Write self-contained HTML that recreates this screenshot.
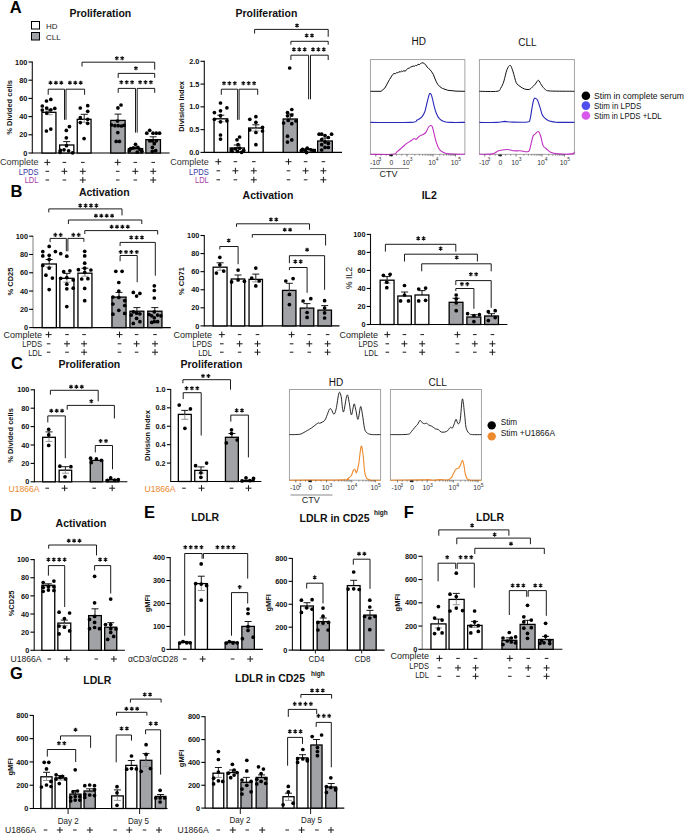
<!DOCTYPE html>
<html><head><meta charset="utf-8"><style>
html,body{margin:0;padding:0;background:#fff;}
svg{display:block;font-family:"Liberation Sans", sans-serif;}
</style></head><body>
<svg width="685" height="836" viewBox="0 0 685 836">
<text x="9.8" y="12.6" font-size="16.5" font-weight="bold" text-anchor="start" fill="#000">A</text>
<text x="100.3" y="17.2" font-size="10.5" font-weight="bold" text-anchor="middle" fill="#111">Proliferation</text>
<rect x="31.5" y="21.5" width="8" height="7.5" fill="#fff" stroke="#000" stroke-width="1"/>
<rect x="31.5" y="32.5" width="8" height="7.5" fill="#a1a2a6" stroke="#000" stroke-width="1"/>
<text x="46.0" y="28.5" font-size="8" font-weight="normal" text-anchor="start" fill="#222">HD</text>
<text x="46.0" y="39.5" font-size="8" font-weight="normal" text-anchor="start" fill="#222">CLL</text>
<line x1="32.30" y1="61.50" x2="32.30" y2="153.50" stroke="#111" stroke-width="1.1"/>
<line x1="32.30" y1="153.00" x2="169.60" y2="153.00" stroke="#000" stroke-width="1.1"/>
<line x1="28.50" y1="153.00" x2="32.30" y2="153.00" stroke="#000" stroke-width="1.1"/>
<text x="27.3" y="155.6" font-size="7.3" font-weight="bold" text-anchor="end" fill="#111">0</text>
<line x1="28.50" y1="134.80" x2="32.30" y2="134.80" stroke="#000" stroke-width="1.1"/>
<text x="27.3" y="137.4" font-size="7.3" font-weight="bold" text-anchor="end" fill="#111">20</text>
<line x1="28.50" y1="116.60" x2="32.30" y2="116.60" stroke="#000" stroke-width="1.1"/>
<text x="27.3" y="119.2" font-size="7.3" font-weight="bold" text-anchor="end" fill="#111">40</text>
<line x1="28.50" y1="98.40" x2="32.30" y2="98.40" stroke="#000" stroke-width="1.1"/>
<text x="27.3" y="101.0" font-size="7.3" font-weight="bold" text-anchor="end" fill="#111">60</text>
<line x1="28.50" y1="80.20" x2="32.30" y2="80.20" stroke="#000" stroke-width="1.1"/>
<text x="27.3" y="82.8" font-size="7.3" font-weight="bold" text-anchor="end" fill="#111">80</text>
<line x1="28.50" y1="62.00" x2="32.30" y2="62.00" stroke="#000" stroke-width="1.1"/>
<text x="27.3" y="64.6" font-size="7.3" font-weight="bold" text-anchor="end" fill="#111">100</text>
<text x="12.0" y="107.4" font-size="7.5" font-weight="bold" text-anchor="middle" fill="#111" transform="rotate(-90 12 107.4)">% Divided cells</text>
<rect x="41.95" y="112.30" width="14.00" height="40.70" fill="#fff" stroke="#000" stroke-width="1.3"/>
<rect x="59.65" y="145.00" width="14.20" height="8.00" fill="#fff" stroke="#000" stroke-width="1.3"/>
<rect x="77.25" y="119.30" width="13.80" height="33.70" fill="#fff" stroke="#000" stroke-width="1.3"/>
<rect x="110.75" y="120.40" width="14.40" height="32.60" fill="#a1a2a6" stroke="#000" stroke-width="1.3"/>
<rect x="128.35" y="148.60" width="14.30" height="4.40" fill="#a1a2a6" stroke="#000" stroke-width="1.3"/>
<rect x="145.85" y="139.70" width="14.60" height="13.30" fill="#a1a2a6" stroke="#000" stroke-width="1.3"/>
<line x1="49.00" y1="109.80" x2="49.00" y2="112.30" stroke="#000" stroke-width="0.9"/>
<line x1="45.50" y1="109.80" x2="52.50" y2="109.80" stroke="#000" stroke-width="0.9"/>
<line x1="49.00" y1="112.30" x2="49.00" y2="114.70" stroke="#8c8c8c" stroke-width="0.9"/>
<line x1="45.50" y1="114.70" x2="52.50" y2="114.70" stroke="#8c8c8c" stroke-width="0.9"/>
<line x1="66.70" y1="141.60" x2="66.70" y2="145.00" stroke="#000" stroke-width="0.9"/>
<line x1="63.20" y1="141.60" x2="70.20" y2="141.60" stroke="#000" stroke-width="0.9"/>
<line x1="84.20" y1="114.30" x2="84.20" y2="119.30" stroke="#000" stroke-width="0.9"/>
<line x1="80.70" y1="114.30" x2="87.70" y2="114.30" stroke="#000" stroke-width="0.9"/>
<line x1="84.20" y1="119.30" x2="84.20" y2="122.30" stroke="#8c8c8c" stroke-width="0.9"/>
<line x1="80.70" y1="122.30" x2="87.70" y2="122.30" stroke="#8c8c8c" stroke-width="0.9"/>
<line x1="118.00" y1="114.10" x2="118.00" y2="120.40" stroke="#000" stroke-width="0.9"/>
<line x1="114.50" y1="114.10" x2="121.50" y2="114.10" stroke="#000" stroke-width="0.9"/>
<line x1="135.50" y1="147.10" x2="135.50" y2="148.60" stroke="#000" stroke-width="0.9"/>
<line x1="132.00" y1="147.10" x2="139.00" y2="147.10" stroke="#000" stroke-width="0.9"/>
<line x1="153.10" y1="136.80" x2="153.10" y2="139.70" stroke="#000" stroke-width="0.9"/>
<line x1="149.60" y1="136.80" x2="156.60" y2="136.80" stroke="#000" stroke-width="0.9"/>
<circle cx="46.5" cy="101.0" r="1.85" fill="#000"/>
<circle cx="50.8" cy="99.4" r="1.85" fill="#000"/>
<circle cx="42.3" cy="106.0" r="1.85" fill="#000"/>
<circle cx="46.7" cy="108.0" r="1.85" fill="#000"/>
<circle cx="50.8" cy="109.8" r="1.85" fill="#000"/>
<circle cx="54.8" cy="108.4" r="1.85" fill="#000"/>
<circle cx="42.3" cy="110.1" r="1.85" fill="#000"/>
<circle cx="46.7" cy="113.1" r="1.85" fill="#000"/>
<circle cx="46.4" cy="131.0" r="1.85" fill="#000"/>
<circle cx="50.8" cy="129.1" r="1.85" fill="#000"/>
<circle cx="69.4" cy="126.6" r="1.85" fill="#000"/>
<circle cx="66.3" cy="130.4" r="1.85" fill="#000"/>
<circle cx="66.3" cy="137.8" r="1.85" fill="#000"/>
<circle cx="60.4" cy="150.3" r="1.85" fill="#000"/>
<circle cx="64.0" cy="149.8" r="1.85" fill="#000"/>
<circle cx="68.6" cy="150.8" r="1.85" fill="#000"/>
<circle cx="72.6" cy="152.8" r="1.85" fill="#000"/>
<circle cx="60.0" cy="152.3" r="1.85" fill="#000"/>
<circle cx="66.5" cy="145.7" r="1.85" fill="#000"/>
<circle cx="80.3" cy="108.0" r="1.85" fill="#000"/>
<circle cx="87.7" cy="105.7" r="1.85" fill="#000"/>
<circle cx="87.7" cy="111.3" r="1.85" fill="#000"/>
<circle cx="80.3" cy="117.7" r="1.85" fill="#000"/>
<circle cx="87.7" cy="119.3" r="1.85" fill="#000"/>
<circle cx="80.3" cy="122.6" r="1.85" fill="#000"/>
<circle cx="87.7" cy="123.3" r="1.85" fill="#000"/>
<circle cx="84.1" cy="138.6" r="1.85" fill="#000"/>
<circle cx="117.9" cy="107.9" r="1.85" fill="#000"/>
<circle cx="121.0" cy="105.0" r="1.85" fill="#000"/>
<circle cx="117.5" cy="121.0" r="1.85" fill="#000"/>
<circle cx="111.6" cy="125.0" r="1.85" fill="#000"/>
<circle cx="114.9" cy="125.7" r="1.85" fill="#000"/>
<circle cx="118.2" cy="125.7" r="1.85" fill="#000"/>
<circle cx="121.4" cy="126.0" r="1.85" fill="#000"/>
<circle cx="124.1" cy="125.3" r="1.85" fill="#000"/>
<circle cx="117.8" cy="132.6" r="1.85" fill="#000"/>
<circle cx="116.2" cy="141.4" r="1.85" fill="#000"/>
<circle cx="119.5" cy="141.4" r="1.85" fill="#000"/>
<circle cx="135.5" cy="144.3" r="1.85" fill="#000"/>
<circle cx="130.7" cy="148.7" r="1.85" fill="#000"/>
<circle cx="133.3" cy="148.0" r="1.85" fill="#000"/>
<circle cx="137.9" cy="147.4" r="1.85" fill="#000"/>
<circle cx="139.9" cy="149.3" r="1.85" fill="#000"/>
<circle cx="141.8" cy="151.3" r="1.85" fill="#000"/>
<circle cx="137.2" cy="152.0" r="1.85" fill="#000"/>
<circle cx="129.3" cy="150.7" r="1.85" fill="#000"/>
<circle cx="149.7" cy="130.3" r="1.85" fill="#000"/>
<circle cx="146.8" cy="133.2" r="1.85" fill="#000"/>
<circle cx="153.0" cy="133.2" r="1.85" fill="#000"/>
<circle cx="156.3" cy="133.2" r="1.85" fill="#000"/>
<circle cx="159.6" cy="133.2" r="1.85" fill="#000"/>
<circle cx="152.4" cy="140.8" r="1.85" fill="#000"/>
<circle cx="156.3" cy="140.8" r="1.85" fill="#000"/>
<circle cx="149.7" cy="140.8" r="1.85" fill="#000"/>
<circle cx="154.3" cy="143.7" r="1.85" fill="#000"/>
<circle cx="152.4" cy="147.4" r="1.85" fill="#000"/>
<circle cx="155.7" cy="150.7" r="1.85" fill="#000"/>
<circle cx="152.4" cy="151.3" r="1.85" fill="#000"/>
<polyline points="48.20,94.80 48.20,89.20 64.50,89.20 64.50,119.80" fill="none" stroke="#000" stroke-width="0.9"/>
<polyline points="66.00,119.80 66.00,89.20 84.60,89.20 84.60,94.80" fill="none" stroke="#000" stroke-width="0.9"/>
<path d="M50.50,80.75L50.50,84.85M48.72,81.77L52.28,83.83M52.28,81.77L48.72,83.83M55.90,80.75L55.90,84.85M54.12,81.77L57.68,83.83M57.68,81.77L54.12,83.83M61.30,80.75L61.30,84.85M59.52,81.77L63.08,83.83M63.08,81.77L59.52,83.83" stroke="#111" stroke-width="1.15" stroke-linecap="butt" fill="none"/>
<path d="M69.90,80.75L69.90,84.85M68.12,81.77L71.68,83.83M71.68,81.77L68.12,83.83M75.30,80.75L75.30,84.85M73.52,81.77L77.08,83.83M77.08,81.77L73.52,83.83M80.70,80.75L80.70,84.85M78.92,81.77L82.48,83.83M82.48,81.77L78.92,83.83" stroke="#111" stroke-width="1.15" stroke-linecap="butt" fill="none"/>
<polyline points="82.00,66.50 82.00,62.20 154.70,62.20 154.70,69.70" fill="none" stroke="#000" stroke-width="0.9"/>
<path d="M116.80,56.25L116.80,60.35M115.02,57.27L118.58,59.32M118.58,57.27L115.02,59.32M122.20,56.25L122.20,60.35M120.42,57.27L123.98,59.32M123.98,57.27L120.42,59.32" stroke="#111" stroke-width="1.15" stroke-linecap="butt" fill="none"/>
<polyline points="118.20,77.90 118.20,73.40 154.70,73.40 154.70,77.90" fill="none" stroke="#000" stroke-width="0.9"/>
<path d="M135.90,66.15L135.90,70.25M134.12,67.17L137.68,69.23M137.68,67.17L134.12,69.23" stroke="#111" stroke-width="1.15" stroke-linecap="butt" fill="none"/>
<polyline points="118.20,92.80 118.20,88.40 135.50,88.40 135.50,132.60" fill="none" stroke="#000" stroke-width="0.9"/>
<polyline points="137.20,132.60 137.20,88.40 154.70,88.40 154.70,92.80" fill="none" stroke="#000" stroke-width="0.9"/>
<path d="M121.30,80.25L121.30,84.35M119.52,81.27L123.08,83.33M123.08,81.27L119.52,83.33M126.70,80.25L126.70,84.35M124.92,81.27L128.48,83.33M128.48,81.27L124.92,83.33M132.10,80.25L132.10,84.35M130.32,81.27L133.88,83.33M133.88,81.27L130.32,83.33" stroke="#111" stroke-width="1.15" stroke-linecap="butt" fill="none"/>
<path d="M140.10,80.25L140.10,84.35M138.32,81.27L141.88,83.33M141.88,81.27L138.32,83.33M145.50,80.25L145.50,84.35M143.72,81.27L147.28,83.33M147.28,81.27L143.72,83.33M150.90,80.25L150.90,84.35M149.12,81.27L152.68,83.33M152.68,81.27L149.12,83.33" stroke="#111" stroke-width="1.15" stroke-linecap="butt" fill="none"/>
<line x1="204.30" y1="60.80" x2="204.30" y2="152.90" stroke="#111" stroke-width="1.1"/>
<line x1="204.30" y1="152.40" x2="342.00" y2="152.40" stroke="#000" stroke-width="1.1"/>
<line x1="200.50" y1="152.40" x2="204.30" y2="152.40" stroke="#000" stroke-width="1.1"/>
<text x="199.3" y="155.0" font-size="7.3" font-weight="bold" text-anchor="end" fill="#111">0.0</text>
<line x1="200.50" y1="129.62" x2="204.30" y2="129.62" stroke="#000" stroke-width="1.1"/>
<text x="199.3" y="132.2" font-size="7.3" font-weight="bold" text-anchor="end" fill="#111">0.5</text>
<line x1="200.50" y1="106.85" x2="204.30" y2="106.85" stroke="#000" stroke-width="1.1"/>
<text x="199.3" y="109.4" font-size="7.3" font-weight="bold" text-anchor="end" fill="#111">1.0</text>
<line x1="200.50" y1="84.08" x2="204.30" y2="84.08" stroke="#000" stroke-width="1.1"/>
<text x="199.3" y="86.7" font-size="7.3" font-weight="bold" text-anchor="end" fill="#111">1.5</text>
<line x1="200.50" y1="61.30" x2="204.30" y2="61.30" stroke="#000" stroke-width="1.1"/>
<text x="199.3" y="63.9" font-size="7.3" font-weight="bold" text-anchor="end" fill="#111">2.0</text>
<text x="184.5" y="106.4" font-size="7.5" font-weight="bold" text-anchor="middle" fill="#111" transform="rotate(-90 184.5 106.4)">Division Index</text>
<text x="266.4" y="16.5" font-size="10.5" font-weight="bold" text-anchor="middle" fill="#111">Proliferation</text>
<rect x="214.05" y="118.80" width="13.60" height="33.60" fill="#fff" stroke="#000" stroke-width="1.3"/>
<rect x="230.15" y="148.00" width="14.20" height="4.40" fill="#fff" stroke="#000" stroke-width="1.3"/>
<rect x="248.65" y="128.00" width="14.50" height="24.40" fill="#fff" stroke="#000" stroke-width="1.3"/>
<rect x="283.15" y="119.00" width="14.20" height="33.40" fill="#a1a2a6" stroke="#000" stroke-width="1.3"/>
<rect x="300.65" y="149.50" width="14.70" height="2.90" fill="#a1a2a6" stroke="#000" stroke-width="1.3"/>
<rect x="317.65" y="141.00" width="14.70" height="11.40" fill="#a1a2a6" stroke="#000" stroke-width="1.3"/>
<line x1="220.80" y1="115.20" x2="220.80" y2="118.80" stroke="#000" stroke-width="0.9"/>
<line x1="217.30" y1="115.20" x2="224.30" y2="115.20" stroke="#000" stroke-width="0.9"/>
<line x1="220.80" y1="118.80" x2="220.80" y2="121.80" stroke="#8c8c8c" stroke-width="0.9"/>
<line x1="217.30" y1="121.80" x2="224.30" y2="121.80" stroke="#8c8c8c" stroke-width="0.9"/>
<line x1="237.20" y1="145.00" x2="237.20" y2="148.00" stroke="#000" stroke-width="0.9"/>
<line x1="233.70" y1="145.00" x2="240.70" y2="145.00" stroke="#000" stroke-width="0.9"/>
<line x1="255.90" y1="124.80" x2="255.90" y2="128.00" stroke="#000" stroke-width="0.9"/>
<line x1="252.40" y1="124.80" x2="259.40" y2="124.80" stroke="#000" stroke-width="0.9"/>
<line x1="255.90" y1="128.00" x2="255.90" y2="131.00" stroke="#8c8c8c" stroke-width="0.9"/>
<line x1="252.40" y1="131.00" x2="259.40" y2="131.00" stroke="#8c8c8c" stroke-width="0.9"/>
<line x1="290.20" y1="114.00" x2="290.20" y2="119.00" stroke="#000" stroke-width="0.9"/>
<line x1="286.70" y1="114.00" x2="293.70" y2="114.00" stroke="#000" stroke-width="0.9"/>
<line x1="308.00" y1="148.50" x2="308.00" y2="149.50" stroke="#000" stroke-width="0.9"/>
<line x1="304.50" y1="148.50" x2="311.50" y2="148.50" stroke="#000" stroke-width="0.9"/>
<line x1="325.00" y1="138.00" x2="325.00" y2="141.00" stroke="#000" stroke-width="0.9"/>
<line x1="321.50" y1="138.00" x2="328.50" y2="138.00" stroke="#000" stroke-width="0.9"/>
<circle cx="220.5" cy="103.0" r="1.85" fill="#000"/>
<circle cx="226.9" cy="107.8" r="1.85" fill="#000"/>
<circle cx="220.5" cy="110.8" r="1.85" fill="#000"/>
<circle cx="214.4" cy="112.6" r="1.85" fill="#000"/>
<circle cx="220.5" cy="115.7" r="1.85" fill="#000"/>
<circle cx="214.4" cy="119.3" r="1.85" fill="#000"/>
<circle cx="220.5" cy="121.8" r="1.85" fill="#000"/>
<circle cx="226.9" cy="120.8" r="1.85" fill="#000"/>
<circle cx="220.5" cy="135.0" r="1.85" fill="#000"/>
<circle cx="220.5" cy="139.1" r="1.85" fill="#000"/>
<circle cx="239.6" cy="137.0" r="1.85" fill="#000"/>
<circle cx="237.0" cy="139.8" r="1.85" fill="#000"/>
<circle cx="238.1" cy="144.5" r="1.85" fill="#000"/>
<circle cx="232.0" cy="149.3" r="1.85" fill="#000"/>
<circle cx="235.5" cy="148.8" r="1.85" fill="#000"/>
<circle cx="239.6" cy="148.2" r="1.85" fill="#000"/>
<circle cx="243.7" cy="150.3" r="1.85" fill="#000"/>
<circle cx="232.0" cy="151.3" r="1.85" fill="#000"/>
<circle cx="237.6" cy="151.3" r="1.85" fill="#000"/>
<circle cx="241.6" cy="152.3" r="1.85" fill="#000"/>
<circle cx="249.8" cy="119.3" r="1.85" fill="#000"/>
<circle cx="255.9" cy="116.7" r="1.85" fill="#000"/>
<circle cx="255.9" cy="122.3" r="1.85" fill="#000"/>
<circle cx="262.5" cy="127.4" r="1.85" fill="#000"/>
<circle cx="249.8" cy="130.0" r="1.85" fill="#000"/>
<circle cx="255.9" cy="132.5" r="1.85" fill="#000"/>
<circle cx="262.5" cy="131.0" r="1.85" fill="#000"/>
<circle cx="255.9" cy="144.7" r="1.85" fill="#000"/>
<circle cx="289.7" cy="68.0" r="1.85" fill="#000"/>
<circle cx="291.8" cy="109.5" r="1.85" fill="#000"/>
<circle cx="287.5" cy="112.5" r="1.85" fill="#000"/>
<circle cx="291.8" cy="115.1" r="1.85" fill="#000"/>
<circle cx="287.5" cy="115.8" r="1.85" fill="#000"/>
<circle cx="288.2" cy="120.4" r="1.85" fill="#000"/>
<circle cx="283.6" cy="123.0" r="1.85" fill="#000"/>
<circle cx="291.8" cy="123.7" r="1.85" fill="#000"/>
<circle cx="296.0" cy="121.0" r="1.85" fill="#000"/>
<circle cx="287.5" cy="136.2" r="1.85" fill="#000"/>
<circle cx="291.8" cy="139.9" r="1.85" fill="#000"/>
<circle cx="287.5" cy="142.1" r="1.85" fill="#000"/>
<circle cx="307.2" cy="148.0" r="1.85" fill="#000"/>
<circle cx="302.6" cy="149.3" r="1.85" fill="#000"/>
<circle cx="311.2" cy="150.0" r="1.85" fill="#000"/>
<circle cx="305.3" cy="151.3" r="1.85" fill="#000"/>
<circle cx="313.8" cy="150.7" r="1.85" fill="#000"/>
<circle cx="301.3" cy="150.7" r="1.85" fill="#000"/>
<circle cx="306.6" cy="152.6" r="1.85" fill="#000"/>
<circle cx="319.1" cy="134.2" r="1.85" fill="#000"/>
<circle cx="321.7" cy="134.2" r="1.85" fill="#000"/>
<circle cx="325.0" cy="135.5" r="1.85" fill="#000"/>
<circle cx="328.3" cy="137.5" r="1.85" fill="#000"/>
<circle cx="331.6" cy="134.2" r="1.85" fill="#000"/>
<circle cx="321.7" cy="139.5" r="1.85" fill="#000"/>
<circle cx="325.0" cy="142.1" r="1.85" fill="#000"/>
<circle cx="328.3" cy="143.4" r="1.85" fill="#000"/>
<circle cx="321.7" cy="144.7" r="1.85" fill="#000"/>
<circle cx="328.3" cy="147.4" r="1.85" fill="#000"/>
<circle cx="325.0" cy="147.4" r="1.85" fill="#000"/>
<circle cx="321.7" cy="150.0" r="1.85" fill="#000"/>
<polyline points="221.30,94.80 221.30,89.20 237.60,89.20 237.60,119.80" fill="none" stroke="#000" stroke-width="0.9"/>
<polyline points="239.10,119.80 239.10,89.20 257.70,89.20 257.70,94.80" fill="none" stroke="#000" stroke-width="0.9"/>
<path d="M224.00,81.25L224.00,85.35M222.22,82.27L225.78,84.33M225.78,82.27L222.22,84.33M229.40,81.25L229.40,85.35M227.62,82.27L231.18,84.33M231.18,82.27L227.62,84.33M234.80,81.25L234.80,85.35M233.02,82.27L236.58,84.33M236.58,82.27L233.02,84.33" stroke="#111" stroke-width="1.15" stroke-linecap="butt" fill="none"/>
<path d="M243.30,81.25L243.30,85.35M241.52,82.27L245.08,84.33M245.08,82.27L241.52,84.33M248.70,81.25L248.70,85.35M246.92,82.27L250.48,84.33M250.48,82.27L246.92,84.33M254.10,81.25L254.10,85.35M252.32,82.27L255.88,84.33M255.88,82.27L252.32,84.33" stroke="#111" stroke-width="1.15" stroke-linecap="butt" fill="none"/>
<polyline points="254.60,33.60 254.60,29.40 328.20,29.40 328.20,36.80" fill="none" stroke="#000" stroke-width="0.9"/>
<path d="M297.00,23.45L297.00,27.55M295.22,24.48L298.78,26.52M298.78,24.48L295.22,26.52" stroke="#111" stroke-width="1.15" stroke-linecap="butt" fill="none"/>
<polyline points="290.90,44.70 290.90,41.30 328.20,41.30 328.20,44.70" fill="none" stroke="#000" stroke-width="0.9"/>
<path d="M306.60,33.45L306.60,37.55M304.82,34.48L308.38,36.52M308.38,34.48L304.82,36.52M312.00,33.45L312.00,37.55M310.22,34.48L313.78,36.52M313.78,34.48L310.22,36.52" stroke="#111" stroke-width="1.15" stroke-linecap="butt" fill="none"/>
<polyline points="290.90,60.00 290.90,55.20 308.60,55.20 308.60,99.30" fill="none" stroke="#000" stroke-width="0.9"/>
<polyline points="310.50,99.30 310.50,55.20 328.20,55.20 328.20,60.00" fill="none" stroke="#000" stroke-width="0.9"/>
<path d="M293.90,47.35L293.90,51.45M292.12,48.38L295.68,50.42M295.68,48.38L292.12,50.42M299.30,47.35L299.30,51.45M297.52,48.38L301.08,50.42M301.08,48.38L297.52,50.42M304.70,47.35L304.70,51.45M302.92,48.38L306.48,50.42M306.48,48.38L302.92,50.42" stroke="#111" stroke-width="1.15" stroke-linecap="butt" fill="none"/>
<path d="M313.00,47.35L313.00,51.45M311.22,48.38L314.78,50.42M314.78,48.38L311.22,50.42M318.40,47.35L318.40,51.45M316.62,48.38L320.18,50.42M320.18,48.38L316.62,50.42M323.80,47.35L323.80,51.45M322.02,48.38L325.58,50.42M325.58,48.38L322.02,50.42" stroke="#111" stroke-width="1.15" stroke-linecap="butt" fill="none"/>
<text x="38.5" y="165.3" font-size="9" font-weight="normal" text-anchor="end" fill="#333">Complete</text>
<text x="38.5" y="174.5" font-size="9" font-weight="normal" text-anchor="end" fill="#3434a8" textLength="19.7" lengthAdjust="spacingAndGlyphs">LPDS</text>
<text x="38.5" y="183.4" font-size="9" font-weight="normal" text-anchor="end" fill="#a83ca8" textLength="13.8" lengthAdjust="spacingAndGlyphs">LDL</text>
<path d="M44.30,162.40H50.30M47.30,159.40V165.40M62.60,162.40H66.20M81.00,162.40H84.60M114.70,162.40H120.70M117.70,159.40V165.40M133.50,162.40H137.10M151.40,162.40H155.00" stroke="#1a1a1a" stroke-width="1.0" fill="none"/>
<path d="M45.50,171.30H49.10M61.40,171.30H67.40M64.40,168.30V174.30M79.80,171.30H85.80M82.80,168.30V174.30M115.90,171.30H119.50M132.30,171.30H138.30M135.30,168.30V174.30M150.20,171.30H156.20M153.20,168.30V174.30" stroke="#1a1a1a" stroke-width="1.0" fill="none"/>
<path d="M45.50,180.00H49.10M62.60,180.00H66.20M79.80,180.00H85.80M82.80,177.00V183.00M115.90,180.00H119.50M133.50,180.00H137.10M150.20,180.00H156.20M153.20,177.00V183.00" stroke="#1a1a1a" stroke-width="1.0" fill="none"/>
<text x="208.8" y="165.3" font-size="9" font-weight="normal" text-anchor="end" fill="#333">Complete</text>
<text x="208.8" y="174.5" font-size="9" font-weight="normal" text-anchor="end" fill="#3434a8" textLength="19.7" lengthAdjust="spacingAndGlyphs">LPDS</text>
<text x="208.8" y="183.4" font-size="9" font-weight="normal" text-anchor="end" fill="#a83ca8" textLength="13.8" lengthAdjust="spacingAndGlyphs">LDL</text>
<path d="M215.30,161.70H221.30M218.30,158.70V164.70M233.60,161.70H237.20M252.00,161.70H255.60M285.50,161.70H291.50M288.50,158.70V164.70M303.80,161.70H307.40M321.60,161.70H325.20" stroke="#1a1a1a" stroke-width="1.0" fill="none"/>
<path d="M216.50,170.80H220.10M232.40,170.80H238.40M235.40,167.80V173.80M250.80,170.80H256.80M253.80,167.80V173.80M286.70,170.80H290.30M302.60,170.80H308.60M305.60,167.80V173.80M320.40,170.80H326.40M323.40,167.80V173.80" stroke="#1a1a1a" stroke-width="1.0" fill="none"/>
<path d="M216.50,179.80H220.10M233.60,179.80H237.20M250.80,179.80H256.80M253.80,176.80V182.80M286.70,179.80H290.30M303.80,179.80H307.40M320.40,179.80H326.40M323.40,176.80V182.80" stroke="#1a1a1a" stroke-width="1.0" fill="none"/>
<text x="418.8" y="44.5" font-size="10" font-weight="normal" text-anchor="middle" fill="#111">HD</text>
<text x="527.4" y="45.5" font-size="10" font-weight="normal" text-anchor="middle" fill="#111">CLL</text>
<rect x="370.4" y="59.6" width="94.5" height="94.70000000000002" fill="none" stroke="#9a9a9a" stroke-width="0.9"/>
<rect x="479.4" y="59.6" width="95.0" height="94.70000000000002" fill="none" stroke="#9a9a9a" stroke-width="0.9"/>
<path d="M370.4,91.3 L381.1,91.3 L384.9,88.0 L389.5,79.5 L392.6,74.6 L394.1,73.4 L395.3,73.9 L396.6,72.5 L397.8,72.9 L399.0,71.6 L400.3,72.2 L401.5,70.9 L402.7,71.6 L403.9,70.5 L405.2,71.4 L406.4,69.7 L407.9,68.5 L409.5,67.9 L410.7,67.0 L411.9,66.6 L413.1,66.0 L414.4,66.3 L415.6,65.4 L416.8,65.7 L418.0,64.2 L419.3,64.7 L420.5,63.6 L421.7,63.0 L422.9,62.7 L424.2,63.6 L425.5,64.5 L427.1,67.0 L428.6,68.5 L430.1,69.7 L431.7,71.9 L433.2,74.2 L434.7,78.0 L436.3,81.8 L437.8,84.4 L440.1,86.9 L442.4,88.4 L447.8,90.3 L457.0,91.2 L464.9,91.3" fill="none" stroke="#111" stroke-width="1.0" stroke-linejoin="round"/>
<path d="M370.4,122.4 C377.2,122.4 403.2,122.8 411.0,122.4 C418.8,122.0 415.3,121.0 417.1,120.1 C418.9,119.2 420.4,118.5 421.7,117.1 C423.0,115.7 423.9,114.1 424.8,111.7 C425.7,109.3 426.3,105.4 427.1,102.5 C427.9,99.6 428.7,95.4 429.4,94.1 C430.1,92.8 430.7,93.7 431.2,94.5 C431.7,95.3 431.9,96.9 432.4,98.7 C432.9,100.5 433.4,103.2 434.0,105.6 C434.6,108.0 435.4,111.0 436.3,113.2 C437.2,115.4 437.9,117.2 439.3,118.6 C440.7,120.0 442.8,121.1 444.7,121.7 C446.6,122.3 447.4,122.3 450.8,122.4 C454.2,122.5 462.5,122.4 464.9,122.4" fill="none" stroke="#2a2ab8" stroke-width="1.1" stroke-linejoin="round"/>
<path d="M370.4,154.3 C374.1,154.3 388.1,154.8 392.6,154.3 C397.1,153.9 395.7,152.7 397.2,151.6 C398.7,150.5 400.3,149.0 401.8,147.7 C403.3,146.4 404.9,144.8 406.4,143.6 C407.9,142.4 409.7,141.7 411.0,140.8 C412.3,140.0 413.1,138.8 414.0,138.5 C414.9,138.2 415.4,139.7 416.3,139.3 C417.2,138.9 418.1,137.1 419.4,136.2 C420.7,135.3 422.9,134.8 424.0,134.0 C425.1,133.2 425.5,132.8 426.3,131.6 C427.1,130.4 427.8,128.0 428.6,127.0 C429.4,126.0 430.3,125.5 430.9,125.5 C431.5,125.5 431.9,125.7 432.4,127.0 C432.9,128.3 433.4,130.6 434.0,133.2 C434.6,135.8 435.4,139.7 436.3,142.4 C437.2,145.1 438.2,147.7 439.3,149.3 C440.4,151.0 441.5,151.5 443.2,152.3 C444.9,153.1 445.7,153.6 449.3,153.9 C452.9,154.2 462.3,154.2 464.9,154.3" fill="none" stroke="#c030c0" stroke-width="1.1" stroke-linejoin="round"/>
<path d="M479.4,91.3 C482.3,91.3 493.4,91.8 497.0,91.3 C500.6,90.8 499.7,89.7 500.8,88.0 C501.9,86.3 502.9,84.2 503.9,81.1 C504.9,78.0 505.9,72.2 507.0,69.6 C508.1,67.0 509.3,65.0 510.3,65.4 C511.3,65.8 512.1,69.0 513.1,71.9 C514.1,74.8 515.1,80.2 516.2,82.6 C517.4,85.0 518.6,85.3 520.0,86.4 C521.4,87.5 523.1,88.5 524.6,89.0 C526.1,89.5 527.9,89.8 529.2,89.5 C530.5,89.2 531.2,88.1 532.2,87.2 C533.2,86.3 534.3,85.2 535.3,84.1 C536.3,82.9 537.4,80.2 538.4,80.3 C539.4,80.4 540.2,83.4 541.4,84.9 C542.5,86.4 543.8,88.5 545.3,89.5 C546.8,90.5 545.8,90.7 550.6,91.0 C555.5,91.3 570.4,91.2 574.4,91.3" fill="none" stroke="#111" stroke-width="1.0" stroke-linejoin="round"/>
<path d="M479.4,122.4 C482.3,122.4 492.8,122.6 497.0,122.4 C501.2,122.2 502.1,121.5 504.7,121.4 C507.2,121.4 508.5,122.0 512.3,122.1 C516.1,122.2 524.6,122.5 527.6,122.0 C530.6,121.5 529.3,121.6 530.0,119.4 C530.7,117.2 531.3,111.9 531.9,108.6 C532.5,105.3 533.2,101.2 533.8,99.5 C534.4,97.8 534.7,98.1 535.3,98.2 C535.9,98.3 536.8,98.7 537.6,100.2 C538.4,101.7 539.1,104.7 539.9,107.1 C540.7,109.5 541.4,113.0 542.2,114.8 C543.0,116.6 543.4,116.8 544.5,117.8 C545.6,118.8 547.3,120.2 549.1,120.9 C550.9,121.6 551.0,121.8 555.2,122.1 C559.4,122.3 571.2,122.4 574.4,122.4" fill="none" stroke="#2a2ab8" stroke-width="1.1" stroke-linejoin="round"/>
<path d="M479.4,154.3 C481.6,154.2 489.2,154.5 492.4,153.9 C495.6,153.3 496.4,151.5 498.5,150.8 C500.6,150.1 502.9,149.9 504.7,149.7 C506.5,149.5 507.8,149.5 509.3,149.7 C510.8,149.9 512.1,150.6 513.9,150.8 C515.7,151.0 517.6,150.7 520.0,150.8 C522.4,150.9 526.6,152.5 528.4,151.6 C530.2,150.7 529.9,148.0 530.7,145.4 C531.5,142.8 532.2,138.1 533.0,136.2 C533.8,134.3 534.4,134.7 535.3,133.9 C536.2,133.1 537.5,131.2 538.4,131.6 C539.3,132.0 539.9,133.9 540.7,136.2 C541.5,138.5 542.1,143.3 543.0,145.4 C543.9,147.5 544.7,147.3 546.0,148.5 C547.3,149.7 548.6,151.4 550.6,152.3 C552.6,153.2 554.7,153.6 558.3,153.9 C561.9,154.2 569.4,154.2 572.1,153.9 C574.8,153.6 574.0,152.2 574.4,151.9" fill="none" stroke="#c030c0" stroke-width="1.1" stroke-linejoin="round"/>
<line x1="414.83" y1="154.30" x2="414.83" y2="155.80" stroke="#555" stroke-width="0.6"/>
<line x1="419.41" y1="154.30" x2="419.41" y2="155.80" stroke="#555" stroke-width="0.6"/>
<line x1="422.65" y1="154.30" x2="422.65" y2="155.80" stroke="#555" stroke-width="0.6"/>
<line x1="425.17" y1="154.30" x2="425.17" y2="155.80" stroke="#555" stroke-width="0.6"/>
<line x1="427.23" y1="154.30" x2="427.23" y2="155.80" stroke="#555" stroke-width="0.6"/>
<line x1="428.97" y1="154.30" x2="428.97" y2="155.80" stroke="#555" stroke-width="0.6"/>
<line x1="430.48" y1="154.30" x2="430.48" y2="155.80" stroke="#555" stroke-width="0.6"/>
<line x1="431.81" y1="154.30" x2="431.81" y2="155.80" stroke="#555" stroke-width="0.6"/>
<line x1="439.77" y1="154.30" x2="439.77" y2="155.80" stroke="#555" stroke-width="0.6"/>
<line x1="443.74" y1="154.30" x2="443.74" y2="155.80" stroke="#555" stroke-width="0.6"/>
<line x1="446.55" y1="154.30" x2="446.55" y2="155.80" stroke="#555" stroke-width="0.6"/>
<line x1="448.73" y1="154.30" x2="448.73" y2="155.80" stroke="#555" stroke-width="0.6"/>
<line x1="450.51" y1="154.30" x2="450.51" y2="155.80" stroke="#555" stroke-width="0.6"/>
<line x1="452.01" y1="154.30" x2="452.01" y2="155.80" stroke="#555" stroke-width="0.6"/>
<line x1="453.32" y1="154.30" x2="453.32" y2="155.80" stroke="#555" stroke-width="0.6"/>
<line x1="454.47" y1="154.30" x2="454.47" y2="155.80" stroke="#555" stroke-width="0.6"/>
<line x1="380.98" y1="154.30" x2="380.98" y2="155.80" stroke="#555" stroke-width="0.6"/>
<line x1="386.16" y1="154.30" x2="386.16" y2="155.80" stroke="#555" stroke-width="0.6"/>
<line x1="396.62" y1="154.30" x2="396.62" y2="155.80" stroke="#555" stroke-width="0.6"/>
<line x1="401.73" y1="154.30" x2="401.73" y2="155.80" stroke="#555" stroke-width="0.6"/>
<text x="374.8" y="164.5" font-size="6.8" font-weight="normal" text-anchor="middle" fill="#333">-10</text>
<text x="378.6" y="161.3" font-size="5" font-weight="normal" text-anchor="start" fill="#333">3</text>
<line x1="375.80" y1="154.30" x2="375.80" y2="156.50" stroke="#444" stroke-width="0.7"/>
<text x="391.5" y="164.5" font-size="6.8" font-weight="normal" text-anchor="middle" fill="#333">0</text>
<line x1="391.50" y1="154.30" x2="391.50" y2="156.50" stroke="#444" stroke-width="0.7"/>
<text x="406.0" y="164.5" font-size="6.8" font-weight="normal" text-anchor="middle" fill="#333">10</text>
<text x="409.8" y="161.3" font-size="5" font-weight="normal" text-anchor="start" fill="#333">3</text>
<line x1="407.00" y1="154.30" x2="407.00" y2="156.50" stroke="#444" stroke-width="0.7"/>
<text x="432.0" y="164.5" font-size="6.8" font-weight="normal" text-anchor="middle" fill="#333">10</text>
<text x="435.8" y="161.3" font-size="5" font-weight="normal" text-anchor="start" fill="#333">4</text>
<line x1="433.00" y1="154.30" x2="433.00" y2="156.50" stroke="#444" stroke-width="0.7"/>
<text x="454.5" y="164.5" font-size="6.8" font-weight="normal" text-anchor="middle" fill="#333">10</text>
<text x="458.3" y="161.3" font-size="5" font-weight="normal" text-anchor="start" fill="#333">5</text>
<line x1="455.50" y1="154.30" x2="455.50" y2="156.50" stroke="#444" stroke-width="0.7"/>
<rect x="389.3" y="154.6" width="3.6" height="1.6" fill="#222"/>
<line x1="523.83" y1="154.30" x2="523.83" y2="155.80" stroke="#555" stroke-width="0.6"/>
<line x1="528.41" y1="154.30" x2="528.41" y2="155.80" stroke="#555" stroke-width="0.6"/>
<line x1="531.65" y1="154.30" x2="531.65" y2="155.80" stroke="#555" stroke-width="0.6"/>
<line x1="534.17" y1="154.30" x2="534.17" y2="155.80" stroke="#555" stroke-width="0.6"/>
<line x1="536.23" y1="154.30" x2="536.23" y2="155.80" stroke="#555" stroke-width="0.6"/>
<line x1="537.97" y1="154.30" x2="537.97" y2="155.80" stroke="#555" stroke-width="0.6"/>
<line x1="539.48" y1="154.30" x2="539.48" y2="155.80" stroke="#555" stroke-width="0.6"/>
<line x1="540.81" y1="154.30" x2="540.81" y2="155.80" stroke="#555" stroke-width="0.6"/>
<line x1="548.77" y1="154.30" x2="548.77" y2="155.80" stroke="#555" stroke-width="0.6"/>
<line x1="552.74" y1="154.30" x2="552.74" y2="155.80" stroke="#555" stroke-width="0.6"/>
<line x1="555.55" y1="154.30" x2="555.55" y2="155.80" stroke="#555" stroke-width="0.6"/>
<line x1="557.73" y1="154.30" x2="557.73" y2="155.80" stroke="#555" stroke-width="0.6"/>
<line x1="559.51" y1="154.30" x2="559.51" y2="155.80" stroke="#555" stroke-width="0.6"/>
<line x1="561.01" y1="154.30" x2="561.01" y2="155.80" stroke="#555" stroke-width="0.6"/>
<line x1="562.32" y1="154.30" x2="562.32" y2="155.80" stroke="#555" stroke-width="0.6"/>
<line x1="563.47" y1="154.30" x2="563.47" y2="155.80" stroke="#555" stroke-width="0.6"/>
<line x1="489.98" y1="154.30" x2="489.98" y2="155.80" stroke="#555" stroke-width="0.6"/>
<line x1="495.16" y1="154.30" x2="495.16" y2="155.80" stroke="#555" stroke-width="0.6"/>
<line x1="505.62" y1="154.30" x2="505.62" y2="155.80" stroke="#555" stroke-width="0.6"/>
<line x1="510.73" y1="154.30" x2="510.73" y2="155.80" stroke="#555" stroke-width="0.6"/>
<text x="483.8" y="164.5" font-size="6.8" font-weight="normal" text-anchor="middle" fill="#333">-10</text>
<text x="487.6" y="161.3" font-size="5" font-weight="normal" text-anchor="start" fill="#333">3</text>
<line x1="484.80" y1="154.30" x2="484.80" y2="156.50" stroke="#444" stroke-width="0.7"/>
<text x="500.5" y="164.5" font-size="6.8" font-weight="normal" text-anchor="middle" fill="#333">0</text>
<line x1="500.50" y1="154.30" x2="500.50" y2="156.50" stroke="#444" stroke-width="0.7"/>
<text x="515.0" y="164.5" font-size="6.8" font-weight="normal" text-anchor="middle" fill="#333">10</text>
<text x="518.8" y="161.3" font-size="5" font-weight="normal" text-anchor="start" fill="#333">3</text>
<line x1="516.00" y1="154.30" x2="516.00" y2="156.50" stroke="#444" stroke-width="0.7"/>
<text x="541.0" y="164.5" font-size="6.8" font-weight="normal" text-anchor="middle" fill="#333">10</text>
<text x="544.8" y="161.3" font-size="5" font-weight="normal" text-anchor="start" fill="#333">4</text>
<line x1="542.00" y1="154.30" x2="542.00" y2="156.50" stroke="#444" stroke-width="0.7"/>
<text x="563.5" y="164.5" font-size="6.8" font-weight="normal" text-anchor="middle" fill="#333">10</text>
<text x="567.3" y="161.3" font-size="5" font-weight="normal" text-anchor="start" fill="#333">5</text>
<line x1="564.50" y1="154.30" x2="564.50" y2="156.50" stroke="#444" stroke-width="0.7"/>
<rect x="498.3" y="154.6" width="3.6" height="1.6" fill="#222"/>
<line x1="370.00" y1="168.50" x2="409.00" y2="168.50" stroke="#8a8a8a" stroke-width="1.2"/>
<text x="388.5" y="176.5" font-size="9" font-weight="normal" text-anchor="middle" fill="#222">CTV</text>
<circle cx="585.9" cy="95.8" r="4.3" fill="#000"/>
<text x="594.0" y="98.8" font-size="8.8" font-weight="normal" text-anchor="start" fill="#111" textLength="90" lengthAdjust="spacingAndGlyphs">Stim in complete serum</text>
<circle cx="585.9" cy="105.6" r="4.3" fill="#5050f0"/>
<text x="594.0" y="108.6" font-size="8.8" font-weight="normal" text-anchor="start" fill="#111" textLength="47.3" lengthAdjust="spacingAndGlyphs">Stim in LPDS</text>
<circle cx="585.9" cy="115.5" r="4.3" fill="#d858ee"/>
<text x="594.0" y="118.5" font-size="8.8" font-weight="normal" text-anchor="start" fill="#111" textLength="67.7" lengthAdjust="spacingAndGlyphs">Stim in LPDS +LDL</text>
<text x="10.4" y="196.9" font-size="16.5" font-weight="bold" text-anchor="start" fill="#000">B</text>
<text x="104.3" y="196.3" font-size="10.5" font-weight="bold" text-anchor="middle" fill="#111">Activation</text>
<line x1="33.00" y1="235.70" x2="33.00" y2="328.10" stroke="#8a8a8a" stroke-width="1.1"/>
<line x1="33.00" y1="327.60" x2="170.80" y2="327.60" stroke="#000" stroke-width="1.1"/>
<line x1="29.20" y1="327.60" x2="33.00" y2="327.60" stroke="#000" stroke-width="1.1"/>
<text x="28.0" y="330.2" font-size="7.3" font-weight="bold" text-anchor="end" fill="#111">0</text>
<line x1="29.20" y1="309.32" x2="33.00" y2="309.32" stroke="#000" stroke-width="1.1"/>
<text x="28.0" y="311.9" font-size="7.3" font-weight="bold" text-anchor="end" fill="#111">20</text>
<line x1="29.20" y1="291.04" x2="33.00" y2="291.04" stroke="#000" stroke-width="1.1"/>
<text x="28.0" y="293.6" font-size="7.3" font-weight="bold" text-anchor="end" fill="#111">40</text>
<line x1="29.20" y1="272.76" x2="33.00" y2="272.76" stroke="#000" stroke-width="1.1"/>
<text x="28.0" y="275.4" font-size="7.3" font-weight="bold" text-anchor="end" fill="#111">60</text>
<line x1="29.20" y1="254.48" x2="33.00" y2="254.48" stroke="#000" stroke-width="1.1"/>
<text x="28.0" y="257.1" font-size="7.3" font-weight="bold" text-anchor="end" fill="#111">80</text>
<line x1="29.20" y1="236.20" x2="33.00" y2="236.20" stroke="#000" stroke-width="1.1"/>
<text x="28.0" y="238.8" font-size="7.3" font-weight="bold" text-anchor="end" fill="#111">100</text>
<text x="12.5" y="281.5" font-size="7.5" font-weight="bold" text-anchor="middle" fill="#111" transform="rotate(-90 12.5 281.5)">% CD25</text>
<rect x="42.15" y="264.00" width="14.20" height="63.60" fill="#fff" stroke="#000" stroke-width="1.3"/>
<rect x="59.85" y="278.30" width="14.10" height="49.30" fill="#fff" stroke="#000" stroke-width="1.3"/>
<rect x="77.95" y="273.20" width="14.00" height="54.40" fill="#fff" stroke="#000" stroke-width="1.3"/>
<rect x="111.95" y="297.10" width="14.10" height="30.50" fill="#a1a2a6" stroke="#000" stroke-width="1.3"/>
<rect x="129.95" y="311.20" width="13.90" height="16.40" fill="#a1a2a6" stroke="#000" stroke-width="1.3"/>
<rect x="147.75" y="311.20" width="14.20" height="16.40" fill="#a1a2a6" stroke="#000" stroke-width="1.3"/>
<line x1="49.20" y1="259.50" x2="49.20" y2="264.00" stroke="#000" stroke-width="0.9"/>
<line x1="45.70" y1="259.50" x2="52.70" y2="259.50" stroke="#000" stroke-width="0.9"/>
<line x1="49.20" y1="264.00" x2="49.20" y2="267.00" stroke="#8c8c8c" stroke-width="0.9"/>
<line x1="45.70" y1="267.00" x2="52.70" y2="267.00" stroke="#8c8c8c" stroke-width="0.9"/>
<line x1="66.90" y1="273.40" x2="66.90" y2="278.30" stroke="#000" stroke-width="0.9"/>
<line x1="63.40" y1="273.40" x2="70.40" y2="273.40" stroke="#000" stroke-width="0.9"/>
<line x1="66.90" y1="278.30" x2="66.90" y2="282.20" stroke="#8c8c8c" stroke-width="0.9"/>
<line x1="63.40" y1="282.20" x2="70.40" y2="282.20" stroke="#8c8c8c" stroke-width="0.9"/>
<line x1="84.90" y1="268.20" x2="84.90" y2="273.20" stroke="#000" stroke-width="0.9"/>
<line x1="81.40" y1="268.20" x2="88.40" y2="268.20" stroke="#000" stroke-width="0.9"/>
<line x1="84.90" y1="273.20" x2="84.90" y2="276.20" stroke="#8c8c8c" stroke-width="0.9"/>
<line x1="81.40" y1="276.20" x2="88.40" y2="276.20" stroke="#8c8c8c" stroke-width="0.9"/>
<line x1="119.00" y1="292.40" x2="119.00" y2="297.10" stroke="#000" stroke-width="0.9"/>
<line x1="115.50" y1="292.40" x2="122.50" y2="292.40" stroke="#000" stroke-width="0.9"/>
<line x1="136.90" y1="307.60" x2="136.90" y2="311.20" stroke="#000" stroke-width="0.9"/>
<line x1="133.40" y1="307.60" x2="140.40" y2="307.60" stroke="#000" stroke-width="0.9"/>
<line x1="154.80" y1="307.60" x2="154.80" y2="311.20" stroke="#000" stroke-width="0.9"/>
<line x1="151.30" y1="307.60" x2="158.30" y2="307.60" stroke="#000" stroke-width="0.9"/>
<circle cx="49.2" cy="246.4" r="1.85" fill="#000"/>
<circle cx="42.8" cy="251.6" r="1.85" fill="#000"/>
<circle cx="55.4" cy="251.6" r="1.85" fill="#000"/>
<circle cx="42.8" cy="255.9" r="1.85" fill="#000"/>
<circle cx="49.2" cy="255.3" r="1.85" fill="#000"/>
<circle cx="49.2" cy="259.4" r="1.85" fill="#000"/>
<circle cx="42.8" cy="265.5" r="1.85" fill="#000"/>
<circle cx="49.2" cy="268.1" r="1.85" fill="#000"/>
<circle cx="45.9" cy="275.2" r="1.85" fill="#000"/>
<circle cx="52.4" cy="278.1" r="1.85" fill="#000"/>
<circle cx="49.2" cy="289.6" r="1.85" fill="#000"/>
<circle cx="60.7" cy="253.7" r="1.85" fill="#000"/>
<circle cx="66.8" cy="256.2" r="1.85" fill="#000"/>
<circle cx="63.7" cy="271.7" r="1.85" fill="#000"/>
<circle cx="69.9" cy="270.8" r="1.85" fill="#000"/>
<circle cx="60.7" cy="278.3" r="1.85" fill="#000"/>
<circle cx="66.8" cy="277.6" r="1.85" fill="#000"/>
<circle cx="73.2" cy="280.0" r="1.85" fill="#000"/>
<circle cx="66.8" cy="284.2" r="1.85" fill="#000"/>
<circle cx="73.2" cy="288.2" r="1.85" fill="#000"/>
<circle cx="66.8" cy="288.8" r="1.85" fill="#000"/>
<circle cx="66.8" cy="306.6" r="1.85" fill="#000"/>
<circle cx="84.7" cy="251.3" r="1.85" fill="#000"/>
<circle cx="84.7" cy="255.9" r="1.85" fill="#000"/>
<circle cx="84.7" cy="263.2" r="1.85" fill="#000"/>
<circle cx="78.4" cy="269.7" r="1.85" fill="#000"/>
<circle cx="84.7" cy="268.2" r="1.85" fill="#000"/>
<circle cx="90.9" cy="270.0" r="1.85" fill="#000"/>
<circle cx="84.7" cy="272.4" r="1.85" fill="#000"/>
<circle cx="81.7" cy="279.0" r="1.85" fill="#000"/>
<circle cx="87.9" cy="278.7" r="1.85" fill="#000"/>
<circle cx="84.7" cy="288.4" r="1.85" fill="#000"/>
<circle cx="84.7" cy="300.7" r="1.85" fill="#000"/>
<circle cx="115.8" cy="271.3" r="1.85" fill="#000"/>
<circle cx="122.1" cy="271.3" r="1.85" fill="#000"/>
<circle cx="118.8" cy="282.5" r="1.85" fill="#000"/>
<circle cx="118.8" cy="291.1" r="1.85" fill="#000"/>
<circle cx="112.9" cy="297.1" r="1.85" fill="#000"/>
<circle cx="118.8" cy="297.4" r="1.85" fill="#000"/>
<circle cx="124.7" cy="300.7" r="1.85" fill="#000"/>
<circle cx="112.9" cy="304.0" r="1.85" fill="#000"/>
<circle cx="124.7" cy="305.5" r="1.85" fill="#000"/>
<circle cx="118.8" cy="310.3" r="1.85" fill="#000"/>
<circle cx="112.9" cy="314.2" r="1.85" fill="#000"/>
<circle cx="124.7" cy="313.4" r="1.85" fill="#000"/>
<circle cx="133.3" cy="292.4" r="1.85" fill="#000"/>
<circle cx="136.6" cy="296.1" r="1.85" fill="#000"/>
<circle cx="139.9" cy="293.4" r="1.85" fill="#000"/>
<circle cx="133.3" cy="311.8" r="1.85" fill="#000"/>
<circle cx="136.6" cy="313.2" r="1.85" fill="#000"/>
<circle cx="139.9" cy="313.8" r="1.85" fill="#000"/>
<circle cx="131.3" cy="315.1" r="1.85" fill="#000"/>
<circle cx="136.6" cy="318.4" r="1.85" fill="#000"/>
<circle cx="139.9" cy="321.7" r="1.85" fill="#000"/>
<circle cx="133.3" cy="323.4" r="1.85" fill="#000"/>
<circle cx="154.3" cy="285.8" r="1.85" fill="#000"/>
<circle cx="154.3" cy="290.5" r="1.85" fill="#000"/>
<circle cx="154.3" cy="298.0" r="1.85" fill="#000"/>
<circle cx="154.3" cy="311.8" r="1.85" fill="#000"/>
<circle cx="149.1" cy="314.5" r="1.85" fill="#000"/>
<circle cx="151.7" cy="315.8" r="1.85" fill="#000"/>
<circle cx="157.6" cy="315.1" r="1.85" fill="#000"/>
<circle cx="160.9" cy="315.8" r="1.85" fill="#000"/>
<circle cx="154.3" cy="317.8" r="1.85" fill="#000"/>
<circle cx="151.7" cy="322.4" r="1.85" fill="#000"/>
<circle cx="157.6" cy="321.7" r="1.85" fill="#000"/>
<circle cx="154.3" cy="321.7" r="1.85" fill="#000"/>
<polyline points="48.80,212.40 48.80,208.90 122.00,208.90 122.00,215.40" fill="none" stroke="#000" stroke-width="0.9"/>
<path d="M80.20,203.55L80.20,207.65M78.42,204.57L81.98,206.62M81.98,204.57L78.42,206.62M85.60,203.55L85.60,207.65M83.82,204.57L87.38,206.62M87.38,204.57L83.82,206.62M91.00,203.55L91.00,207.65M89.22,204.57L92.78,206.62M92.78,204.57L89.22,206.62M96.40,203.55L96.40,207.65M94.62,204.57L98.18,206.62M98.18,204.57L94.62,206.62" stroke="#111" stroke-width="1.15" stroke-linecap="butt" fill="none"/>
<polyline points="68.40,224.00 68.40,220.00 141.80,220.00 141.80,224.00" fill="none" stroke="#000" stroke-width="0.9"/>
<path d="M95.90,213.75L95.90,217.85M94.12,214.78L97.68,216.83M97.68,214.78L94.12,216.83M101.30,213.75L101.30,217.85M99.52,214.78L103.08,216.83M103.08,214.78L99.52,216.83M106.70,213.75L106.70,217.85M104.92,214.78L108.48,216.83M108.48,214.78L104.92,216.83M112.10,213.75L112.10,217.85M110.32,214.78L113.88,216.83M113.88,214.78L110.32,216.83" stroke="#111" stroke-width="1.15" stroke-linecap="butt" fill="none"/>
<polyline points="84.80,234.00 84.80,230.60 157.70,230.60 157.70,234.50" fill="none" stroke="#000" stroke-width="0.9"/>
<path d="M111.60,224.65L111.60,228.75M109.82,225.67L113.38,227.72M113.38,225.67L109.82,227.72M117.00,224.65L117.00,228.75M115.22,225.67L118.78,227.72M118.78,225.67L115.22,227.72M122.40,224.65L122.40,228.75M120.62,225.67L124.18,227.72M124.18,225.67L120.62,227.72M127.80,224.65L127.80,228.75M126.02,225.67L129.58,227.72M129.58,225.67L126.02,227.72" stroke="#111" stroke-width="1.15" stroke-linecap="butt" fill="none"/>
<polyline points="50.10,242.10 50.10,238.40 66.30,238.40 66.30,251.30" fill="none" stroke="#000" stroke-width="0.9"/>
<polyline points="67.90,251.30 67.90,238.40 83.90,238.40 83.90,241.80" fill="none" stroke="#000" stroke-width="0.9"/>
<path d="M55.30,232.85L55.30,236.95M53.52,233.88L57.08,235.93M57.08,233.88L53.52,235.93M60.70,232.85L60.70,236.95M58.92,233.88L62.48,235.93M62.48,233.88L58.92,235.93" stroke="#111" stroke-width="1.15" stroke-linecap="butt" fill="none"/>
<path d="M73.30,232.85L73.30,236.95M71.52,233.88L75.08,235.93M75.08,233.88L71.52,235.93M78.70,232.85L78.70,236.95M76.92,233.88L80.48,235.93M80.48,233.88L76.92,235.93" stroke="#111" stroke-width="1.15" stroke-linecap="butt" fill="none"/>
<polyline points="120.10,246.00 120.10,242.40 155.30,242.40 155.30,275.70" fill="none" stroke="#000" stroke-width="0.9"/>
<path d="M131.20,235.45L131.20,239.55M129.42,236.47L132.98,238.53M132.98,236.47L129.42,238.53M136.60,235.45L136.60,239.55M134.82,236.47L138.38,238.53M138.38,236.47L134.82,238.53M142.00,235.45L142.00,239.55M140.22,236.47L143.78,238.53M143.78,236.47L140.22,238.53" stroke="#111" stroke-width="1.15" stroke-linecap="butt" fill="none"/>
<polyline points="120.10,261.20 120.10,255.50 137.20,255.50 137.20,282.20" fill="none" stroke="#000" stroke-width="0.9"/>
<path d="M120.60,249.95L120.60,254.05M118.82,250.97L122.38,253.03M122.38,250.97L118.82,253.03M126.00,249.95L126.00,254.05M124.22,250.97L127.78,253.03M127.78,250.97L124.22,253.03M131.40,249.95L131.40,254.05M129.62,250.97L133.18,253.03M133.18,250.97L129.62,253.03M136.80,249.95L136.80,254.05M135.02,250.97L138.58,253.03M138.58,250.97L135.02,253.03" stroke="#111" stroke-width="1.15" stroke-linecap="butt" fill="none"/>
<text x="268.0" y="198.5" font-size="10.5" font-weight="bold" text-anchor="middle" fill="#111">Activation</text>
<line x1="204.30" y1="235.00" x2="204.30" y2="326.40" stroke="#111" stroke-width="1.1"/>
<line x1="204.30" y1="325.90" x2="339.50" y2="325.90" stroke="#000" stroke-width="1.1"/>
<line x1="200.50" y1="325.90" x2="204.30" y2="325.90" stroke="#000" stroke-width="1.1"/>
<text x="199.3" y="328.5" font-size="7.3" font-weight="bold" text-anchor="end" fill="#111">0</text>
<line x1="200.50" y1="307.82" x2="204.30" y2="307.82" stroke="#000" stroke-width="1.1"/>
<text x="199.3" y="310.4" font-size="7.3" font-weight="bold" text-anchor="end" fill="#111">20</text>
<line x1="200.50" y1="289.74" x2="204.30" y2="289.74" stroke="#000" stroke-width="1.1"/>
<text x="199.3" y="292.3" font-size="7.3" font-weight="bold" text-anchor="end" fill="#111">40</text>
<line x1="200.50" y1="271.66" x2="204.30" y2="271.66" stroke="#000" stroke-width="1.1"/>
<text x="199.3" y="274.3" font-size="7.3" font-weight="bold" text-anchor="end" fill="#111">60</text>
<line x1="200.50" y1="253.58" x2="204.30" y2="253.58" stroke="#000" stroke-width="1.1"/>
<text x="199.3" y="256.2" font-size="7.3" font-weight="bold" text-anchor="end" fill="#111">80</text>
<line x1="200.50" y1="235.50" x2="204.30" y2="235.50" stroke="#000" stroke-width="1.1"/>
<text x="199.3" y="238.1" font-size="7.3" font-weight="bold" text-anchor="end" fill="#111">100</text>
<text x="183.5" y="281.0" font-size="7.5" font-weight="bold" text-anchor="middle" fill="#111" transform="rotate(-90 183.5 281)">% CD71</text>
<rect x="213.15" y="267.20" width="13.90" height="58.70" fill="#fff" stroke="#000" stroke-width="1.3"/>
<rect x="231.25" y="279.00" width="13.50" height="46.90" fill="#fff" stroke="#000" stroke-width="1.3"/>
<rect x="249.05" y="279.40" width="13.40" height="46.50" fill="#fff" stroke="#000" stroke-width="1.3"/>
<rect x="282.55" y="290.40" width="13.40" height="35.50" fill="#a1a2a6" stroke="#000" stroke-width="1.3"/>
<rect x="300.25" y="308.10" width="13.50" height="17.80" fill="#a1a2a6" stroke="#000" stroke-width="1.3"/>
<rect x="317.95" y="310.10" width="13.50" height="15.80" fill="#a1a2a6" stroke="#000" stroke-width="1.3"/>
<line x1="220.10" y1="262.80" x2="220.10" y2="267.20" stroke="#000" stroke-width="0.9"/>
<line x1="216.60" y1="262.80" x2="223.60" y2="262.80" stroke="#000" stroke-width="0.9"/>
<line x1="220.10" y1="267.20" x2="220.10" y2="270.20" stroke="#8c8c8c" stroke-width="0.9"/>
<line x1="216.60" y1="270.20" x2="223.60" y2="270.20" stroke="#8c8c8c" stroke-width="0.9"/>
<line x1="238.00" y1="275.00" x2="238.00" y2="279.00" stroke="#000" stroke-width="0.9"/>
<line x1="234.50" y1="275.00" x2="241.50" y2="275.00" stroke="#000" stroke-width="0.9"/>
<line x1="255.80" y1="274.10" x2="255.80" y2="279.40" stroke="#000" stroke-width="0.9"/>
<line x1="252.30" y1="274.10" x2="259.30" y2="274.10" stroke="#000" stroke-width="0.9"/>
<line x1="255.80" y1="279.40" x2="255.80" y2="281.90" stroke="#8c8c8c" stroke-width="0.9"/>
<line x1="252.30" y1="281.90" x2="259.30" y2="281.90" stroke="#8c8c8c" stroke-width="0.9"/>
<line x1="289.30" y1="283.30" x2="289.30" y2="290.40" stroke="#000" stroke-width="0.9"/>
<line x1="285.80" y1="283.30" x2="292.80" y2="283.30" stroke="#000" stroke-width="0.9"/>
<line x1="289.30" y1="290.40" x2="289.30" y2="295.70" stroke="#8c8c8c" stroke-width="0.9"/>
<line x1="285.80" y1="295.70" x2="292.80" y2="295.70" stroke="#8c8c8c" stroke-width="0.9"/>
<line x1="307.00" y1="303.60" x2="307.00" y2="308.10" stroke="#000" stroke-width="0.9"/>
<line x1="303.50" y1="303.60" x2="310.50" y2="303.60" stroke="#000" stroke-width="0.9"/>
<line x1="307.00" y1="308.10" x2="307.00" y2="312.50" stroke="#8c8c8c" stroke-width="0.9"/>
<line x1="303.50" y1="312.50" x2="310.50" y2="312.50" stroke="#8c8c8c" stroke-width="0.9"/>
<line x1="324.70" y1="305.60" x2="324.70" y2="310.10" stroke="#000" stroke-width="0.9"/>
<line x1="321.20" y1="305.60" x2="328.20" y2="305.60" stroke="#000" stroke-width="0.9"/>
<circle cx="219.8" cy="257.3" r="1.85" fill="#000"/>
<circle cx="219.8" cy="264.8" r="1.85" fill="#000"/>
<circle cx="216.4" cy="273.1" r="1.85" fill="#000"/>
<circle cx="223.7" cy="271.1" r="1.85" fill="#000"/>
<circle cx="238.1" cy="270.1" r="1.85" fill="#000"/>
<circle cx="231.6" cy="281.9" r="1.85" fill="#000"/>
<circle cx="238.1" cy="280.0" r="1.85" fill="#000"/>
<circle cx="244.4" cy="281.3" r="1.85" fill="#000"/>
<circle cx="255.8" cy="268.1" r="1.85" fill="#000"/>
<circle cx="251.7" cy="278.0" r="1.85" fill="#000"/>
<circle cx="259.2" cy="281.0" r="1.85" fill="#000"/>
<circle cx="255.8" cy="285.9" r="1.85" fill="#000"/>
<circle cx="285.8" cy="281.0" r="1.85" fill="#000"/>
<circle cx="293.1" cy="278.6" r="1.85" fill="#000"/>
<circle cx="289.4" cy="294.4" r="1.85" fill="#000"/>
<circle cx="289.4" cy="304.6" r="1.85" fill="#000"/>
<circle cx="303.1" cy="301.0" r="1.85" fill="#000"/>
<circle cx="310.8" cy="298.7" r="1.85" fill="#000"/>
<circle cx="307.1" cy="312.5" r="1.85" fill="#000"/>
<circle cx="307.1" cy="317.4" r="1.85" fill="#000"/>
<circle cx="324.6" cy="300.7" r="1.85" fill="#000"/>
<circle cx="324.6" cy="308.0" r="1.85" fill="#000"/>
<circle cx="324.6" cy="312.9" r="1.85" fill="#000"/>
<circle cx="324.6" cy="318.0" r="1.85" fill="#000"/>
<polyline points="236.50,226.80 236.50,223.80 309.50,223.80 309.50,229.70" fill="none" stroke="#000" stroke-width="0.9"/>
<path d="M270.90,217.45L270.90,221.55M269.12,218.47L272.68,220.53M272.68,218.47L269.12,220.53M276.30,217.45L276.30,221.55M274.52,218.47L278.08,220.53M278.08,218.47L274.52,220.53" stroke="#111" stroke-width="1.15" stroke-linecap="butt" fill="none"/>
<polyline points="252.30,237.60 252.30,234.60 325.60,234.60 325.60,245.50" fill="none" stroke="#000" stroke-width="0.9"/>
<path d="M284.70,227.65L284.70,231.75M282.92,228.67L286.48,230.72M286.48,228.67L282.92,230.72M290.10,227.65L290.10,231.75M288.32,228.67L291.88,230.72M291.88,228.67L288.32,230.72" stroke="#111" stroke-width="1.15" stroke-linecap="butt" fill="none"/>
<polyline points="219.80,249.40 219.80,246.50 238.10,246.50 238.10,264.20" fill="none" stroke="#000" stroke-width="0.9"/>
<path d="M228.70,238.45L228.70,242.55M226.92,239.47L230.48,241.53M230.48,239.47L226.92,241.53" stroke="#111" stroke-width="1.15" stroke-linecap="butt" fill="none"/>
<polyline points="289.40,263.20 289.40,255.70 324.60,255.70 324.60,289.80" fill="none" stroke="#000" stroke-width="0.9"/>
<path d="M307.10,247.75L307.10,251.85M305.32,248.78L308.88,250.83M308.88,248.78L305.32,250.83" stroke="#111" stroke-width="1.15" stroke-linecap="butt" fill="none"/>
<polyline points="289.40,270.10 289.40,267.50 307.10,267.50 307.10,292.80" fill="none" stroke="#000" stroke-width="0.9"/>
<path d="M295.30,259.55L295.30,263.65M293.52,260.58L297.08,262.62M297.08,260.58L293.52,262.62M300.70,259.55L300.70,263.65M298.92,260.58L302.48,262.62M302.48,260.58L298.92,262.62" stroke="#111" stroke-width="1.15" stroke-linecap="butt" fill="none"/>
<text x="429.3" y="198.5" font-size="10.5" font-weight="bold" text-anchor="middle" fill="#111">IL2</text>
<line x1="370.50" y1="233.90" x2="370.50" y2="325.00" stroke="#111" stroke-width="1.1"/>
<line x1="370.50" y1="324.50" x2="507.40" y2="324.50" stroke="#000" stroke-width="1.1"/>
<line x1="366.70" y1="324.50" x2="370.50" y2="324.50" stroke="#000" stroke-width="1.1"/>
<text x="365.5" y="327.1" font-size="7.3" font-weight="bold" text-anchor="end" fill="#111">0</text>
<line x1="366.70" y1="306.48" x2="370.50" y2="306.48" stroke="#000" stroke-width="1.1"/>
<text x="365.5" y="309.1" font-size="7.3" font-weight="bold" text-anchor="end" fill="#111">20</text>
<line x1="366.70" y1="288.46" x2="370.50" y2="288.46" stroke="#000" stroke-width="1.1"/>
<text x="365.5" y="291.1" font-size="7.3" font-weight="bold" text-anchor="end" fill="#111">40</text>
<line x1="366.70" y1="270.44" x2="370.50" y2="270.44" stroke="#000" stroke-width="1.1"/>
<text x="365.5" y="273.0" font-size="7.3" font-weight="bold" text-anchor="end" fill="#111">60</text>
<line x1="366.70" y1="252.42" x2="370.50" y2="252.42" stroke="#000" stroke-width="1.1"/>
<text x="365.5" y="255.0" font-size="7.3" font-weight="bold" text-anchor="end" fill="#111">80</text>
<line x1="366.70" y1="234.40" x2="370.50" y2="234.40" stroke="#000" stroke-width="1.1"/>
<text x="365.5" y="237.0" font-size="7.3" font-weight="bold" text-anchor="end" fill="#111">100</text>
<text x="352.3" y="278.0" font-size="8.8" font-weight="normal" text-anchor="middle" fill="#111" transform="rotate(-90 352.3 278)">% IL2</text>
<rect x="380.15" y="280.20" width="13.90" height="44.30" fill="#fff" stroke="#000" stroke-width="1.3"/>
<rect x="397.85" y="296.00" width="13.50" height="28.50" fill="#fff" stroke="#000" stroke-width="1.3"/>
<rect x="415.05" y="295.00" width="13.80" height="29.50" fill="#fff" stroke="#000" stroke-width="1.3"/>
<rect x="449.15" y="302.30" width="13.80" height="22.20" fill="#a1a2a6" stroke="#000" stroke-width="1.3"/>
<rect x="466.85" y="317.00" width="13.90" height="7.50" fill="#a1a2a6" stroke="#000" stroke-width="1.3"/>
<rect x="484.65" y="316.00" width="13.80" height="8.50" fill="#a1a2a6" stroke="#000" stroke-width="1.3"/>
<line x1="387.10" y1="276.60" x2="387.10" y2="280.20" stroke="#000" stroke-width="0.9"/>
<line x1="383.60" y1="276.60" x2="390.60" y2="276.60" stroke="#000" stroke-width="0.9"/>
<line x1="387.10" y1="280.20" x2="387.10" y2="283.20" stroke="#8c8c8c" stroke-width="0.9"/>
<line x1="383.60" y1="283.20" x2="390.60" y2="283.20" stroke="#8c8c8c" stroke-width="0.9"/>
<line x1="404.60" y1="292.00" x2="404.60" y2="296.00" stroke="#000" stroke-width="0.9"/>
<line x1="401.10" y1="292.00" x2="408.10" y2="292.00" stroke="#000" stroke-width="0.9"/>
<line x1="422.00" y1="290.60" x2="422.00" y2="295.00" stroke="#000" stroke-width="0.9"/>
<line x1="418.50" y1="290.60" x2="425.50" y2="290.60" stroke="#000" stroke-width="0.9"/>
<line x1="456.00" y1="298.30" x2="456.00" y2="302.30" stroke="#000" stroke-width="0.9"/>
<line x1="452.50" y1="298.30" x2="459.50" y2="298.30" stroke="#000" stroke-width="0.9"/>
<line x1="456.00" y1="302.30" x2="456.00" y2="305.40" stroke="#8c8c8c" stroke-width="0.9"/>
<line x1="452.50" y1="305.40" x2="459.50" y2="305.40" stroke="#8c8c8c" stroke-width="0.9"/>
<line x1="473.80" y1="314.70" x2="473.80" y2="317.00" stroke="#000" stroke-width="0.9"/>
<line x1="470.30" y1="314.70" x2="477.30" y2="314.70" stroke="#000" stroke-width="0.9"/>
<line x1="491.50" y1="313.70" x2="491.50" y2="316.00" stroke="#000" stroke-width="0.9"/>
<line x1="488.00" y1="313.70" x2="495.00" y2="313.70" stroke="#000" stroke-width="0.9"/>
<circle cx="383.4" cy="275.3" r="1.85" fill="#000"/>
<circle cx="390.1" cy="274.3" r="1.85" fill="#000"/>
<circle cx="386.8" cy="282.2" r="1.85" fill="#000"/>
<circle cx="386.8" cy="287.7" r="1.85" fill="#000"/>
<circle cx="404.5" cy="285.5" r="1.85" fill="#000"/>
<circle cx="404.5" cy="295.0" r="1.85" fill="#000"/>
<circle cx="400.6" cy="300.9" r="1.85" fill="#000"/>
<circle cx="408.5" cy="300.9" r="1.85" fill="#000"/>
<circle cx="418.7" cy="289.0" r="1.85" fill="#000"/>
<circle cx="425.6" cy="288.1" r="1.85" fill="#000"/>
<circle cx="418.7" cy="300.9" r="1.85" fill="#000"/>
<circle cx="425.6" cy="300.3" r="1.85" fill="#000"/>
<circle cx="456.2" cy="295.0" r="1.85" fill="#000"/>
<circle cx="456.2" cy="298.9" r="1.85" fill="#000"/>
<circle cx="456.2" cy="302.8" r="1.85" fill="#000"/>
<circle cx="456.2" cy="310.7" r="1.85" fill="#000"/>
<circle cx="467.6" cy="313.7" r="1.85" fill="#000"/>
<circle cx="473.9" cy="315.7" r="1.85" fill="#000"/>
<circle cx="479.4" cy="314.7" r="1.85" fill="#000"/>
<circle cx="473.9" cy="321.6" r="1.85" fill="#000"/>
<circle cx="488.3" cy="311.7" r="1.85" fill="#000"/>
<circle cx="495.2" cy="310.7" r="1.85" fill="#000"/>
<circle cx="488.3" cy="320.6" r="1.85" fill="#000"/>
<circle cx="495.2" cy="317.6" r="1.85" fill="#000"/>
<polyline points="385.40,251.60 385.40,244.30 455.80,244.30 455.80,251.60" fill="none" stroke="#000" stroke-width="0.9"/>
<path d="M418.20,236.35L418.20,240.45M416.42,237.38L419.98,239.43M419.98,237.38L416.42,239.43M423.60,236.35L423.60,240.45M421.82,237.38L425.38,239.43M425.38,237.38L421.82,239.43" stroke="#111" stroke-width="1.15" stroke-linecap="butt" fill="none"/>
<polyline points="404.50,261.50 404.50,254.20 477.40,254.20 477.40,261.50" fill="none" stroke="#000" stroke-width="0.9"/>
<path d="M440.60,246.55L440.60,250.65M438.82,247.57L442.38,249.62M442.38,247.57L438.82,249.62" stroke="#111" stroke-width="1.15" stroke-linecap="butt" fill="none"/>
<polyline points="421.70,271.30 421.70,263.80 491.20,263.80 491.20,271.30" fill="none" stroke="#000" stroke-width="0.9"/>
<path d="M456.70,255.45L456.70,259.55M454.92,256.48L458.48,258.52M458.48,256.48L454.92,258.52" stroke="#111" stroke-width="1.15" stroke-linecap="butt" fill="none"/>
<polyline points="455.80,285.10 455.80,280.60 491.20,280.60 491.20,307.80" fill="none" stroke="#000" stroke-width="0.9"/>
<path d="M470.80,272.25L470.80,276.35M469.02,273.28L472.58,275.32M472.58,273.28L469.02,275.32M476.20,272.25L476.20,276.35M474.42,273.28L477.98,275.32M477.98,273.28L474.42,275.32" stroke="#111" stroke-width="1.15" stroke-linecap="butt" fill="none"/>
<polyline points="455.80,291.00 455.80,288.50 473.90,288.50 473.90,308.80" fill="none" stroke="#000" stroke-width="0.9"/>
<path d="M461.90,282.05L461.90,286.15M460.12,283.08L463.68,285.12M463.68,283.08L460.12,285.12M467.30,282.05L467.30,286.15M465.52,283.08L469.08,285.12M469.08,283.08L465.52,285.12" stroke="#111" stroke-width="1.15" stroke-linecap="butt" fill="none"/>
<text x="42.0" y="337.8" font-size="9" font-weight="normal" text-anchor="end" fill="#222">Complete</text>
<text x="42.0" y="347.0" font-size="9" font-weight="normal" text-anchor="end" fill="#222" textLength="19.7" lengthAdjust="spacingAndGlyphs">LPDS</text>
<text x="42.0" y="355.6" font-size="9" font-weight="normal" text-anchor="end" fill="#222" textLength="13.8" lengthAdjust="spacingAndGlyphs">LDL</text>
<path d="M45.60,334.60H51.60M48.60,331.60V337.60M65.20,334.60H68.80M82.30,334.60H85.90M116.50,334.60H122.50M119.50,331.60V337.60M134.80,334.60H138.40M153.20,334.60H156.80" stroke="#1a1a1a" stroke-width="1.0" fill="none"/>
<path d="M46.80,343.80H50.40M64.00,343.80H70.00M67.00,340.80V346.80M81.10,343.80H87.10M84.10,340.80V346.80M117.70,343.80H121.30M133.60,343.80H139.60M136.60,340.80V346.80M152.00,343.80H158.00M155.00,340.80V346.80" stroke="#1a1a1a" stroke-width="1.0" fill="none"/>
<path d="M46.80,352.20H50.40M65.20,352.20H68.80M81.10,352.20H87.10M84.10,349.20V355.20M117.70,352.20H121.30M134.80,352.20H138.40M152.00,352.20H158.00M155.00,349.20V355.20" stroke="#1a1a1a" stroke-width="1.0" fill="none"/>
<text x="212.0" y="337.8" font-size="9" font-weight="normal" text-anchor="end" fill="#222">Complete</text>
<text x="212.0" y="347.0" font-size="9" font-weight="normal" text-anchor="end" fill="#222" textLength="19.7" lengthAdjust="spacingAndGlyphs">LPDS</text>
<text x="212.0" y="355.6" font-size="9" font-weight="normal" text-anchor="end" fill="#222" textLength="13.8" lengthAdjust="spacingAndGlyphs">LDL</text>
<path d="M218.80,334.60H224.80M221.80,331.60V337.60M237.80,334.60H241.40M255.70,334.60H259.30M288.60,334.60H294.60M291.60,331.60V337.60M307.50,334.60H311.10M325.80,334.60H329.40" stroke="#1a1a1a" stroke-width="1.0" fill="none"/>
<path d="M220.00,343.80H223.60M236.60,343.80H242.60M239.60,340.80V346.80M254.50,343.80H260.50M257.50,340.80V346.80M289.80,343.80H293.40M306.30,343.80H312.30M309.30,340.80V346.80M324.60,343.80H330.60M327.60,340.80V346.80" stroke="#1a1a1a" stroke-width="1.0" fill="none"/>
<path d="M220.00,352.20H223.60M237.80,352.20H241.40M254.50,352.20H260.50M257.50,349.20V355.20M289.80,352.20H293.40M307.50,352.20H311.10M324.60,352.20H330.60M327.60,349.20V355.20" stroke="#1a1a1a" stroke-width="1.0" fill="none"/>
<text x="378.1" y="337.8" font-size="9" font-weight="normal" text-anchor="end" fill="#222">Complete</text>
<text x="378.1" y="347.0" font-size="9" font-weight="normal" text-anchor="end" fill="#222" textLength="19.7" lengthAdjust="spacingAndGlyphs">LPDS</text>
<text x="378.1" y="355.6" font-size="9" font-weight="normal" text-anchor="end" fill="#222" textLength="13.8" lengthAdjust="spacingAndGlyphs">LDL</text>
<path d="M384.30,334.60H390.30M387.30,331.60V337.60M402.60,334.60H406.20M420.40,334.60H424.00M454.40,334.60H460.40M457.40,331.60V337.60M473.00,334.60H476.60M490.60,334.60H494.20" stroke="#1a1a1a" stroke-width="1.0" fill="none"/>
<path d="M385.50,343.80H389.10M401.40,343.80H407.40M404.40,340.80V346.80M419.20,343.80H425.20M422.20,340.80V346.80M455.60,343.80H459.20M471.80,343.80H477.80M474.80,340.80V346.80M489.40,343.80H495.40M492.40,340.80V346.80" stroke="#1a1a1a" stroke-width="1.0" fill="none"/>
<path d="M385.50,352.20H389.10M402.60,352.20H406.20M419.20,352.20H425.20M422.20,349.20V355.20M455.60,352.20H459.20M473.00,352.20H476.60M489.40,352.20H495.40M492.40,349.20V355.20" stroke="#1a1a1a" stroke-width="1.0" fill="none"/>
<text x="11.0" y="369.1" font-size="16.5" font-weight="bold" text-anchor="start" fill="#000">C</text>
<text x="89.3" y="368.0" font-size="10.5" font-weight="bold" text-anchor="middle" fill="#111">Proliferation</text>
<line x1="34.40" y1="389.30" x2="34.40" y2="482.30" stroke="#111" stroke-width="1.1"/>
<line x1="34.40" y1="481.80" x2="127.40" y2="481.80" stroke="#000" stroke-width="1.1"/>
<line x1="30.60" y1="481.80" x2="34.40" y2="481.80" stroke="#000" stroke-width="1.1"/>
<text x="29.4" y="484.4" font-size="7.3" font-weight="bold" text-anchor="end" fill="#111">0</text>
<line x1="30.60" y1="463.40" x2="34.40" y2="463.40" stroke="#000" stroke-width="1.1"/>
<text x="29.4" y="466.0" font-size="7.3" font-weight="bold" text-anchor="end" fill="#111">20</text>
<line x1="30.60" y1="445.00" x2="34.40" y2="445.00" stroke="#000" stroke-width="1.1"/>
<text x="29.4" y="447.6" font-size="7.3" font-weight="bold" text-anchor="end" fill="#111">40</text>
<line x1="30.60" y1="426.60" x2="34.40" y2="426.60" stroke="#000" stroke-width="1.1"/>
<text x="29.4" y="429.2" font-size="7.3" font-weight="bold" text-anchor="end" fill="#111">60</text>
<line x1="30.60" y1="408.20" x2="34.40" y2="408.20" stroke="#000" stroke-width="1.1"/>
<text x="29.4" y="410.8" font-size="7.3" font-weight="bold" text-anchor="end" fill="#111">80</text>
<line x1="30.60" y1="389.80" x2="34.40" y2="389.80" stroke="#000" stroke-width="1.1"/>
<text x="29.4" y="392.4" font-size="7.3" font-weight="bold" text-anchor="end" fill="#111">100</text>
<text x="13.0" y="435.5" font-size="7.5" font-weight="bold" text-anchor="middle" fill="#111" transform="rotate(-90 13 435.5)">% Divided cells</text>
<rect x="42.65" y="437.30" width="12.70" height="44.50" fill="#fff" stroke="#000" stroke-width="1.3"/>
<rect x="59.15" y="470.20" width="12.50" height="11.60" fill="#fff" stroke="#000" stroke-width="1.3"/>
<rect x="90.25" y="460.40" width="12.40" height="21.40" fill="#a1a2a6" stroke="#000" stroke-width="1.3"/>
<rect x="106.25" y="479.70" width="12.40" height="2.10" fill="#a1a2a6" stroke="#000" stroke-width="1.3"/>
<line x1="49.00" y1="431.90" x2="49.00" y2="437.30" stroke="#000" stroke-width="0.9"/>
<line x1="45.50" y1="431.90" x2="52.50" y2="431.90" stroke="#000" stroke-width="0.9"/>
<line x1="49.00" y1="437.30" x2="49.00" y2="441.40" stroke="#8c8c8c" stroke-width="0.9"/>
<line x1="45.50" y1="441.40" x2="52.50" y2="441.40" stroke="#8c8c8c" stroke-width="0.9"/>
<line x1="65.40" y1="466.70" x2="65.40" y2="470.20" stroke="#000" stroke-width="0.9"/>
<line x1="61.90" y1="466.70" x2="68.90" y2="466.70" stroke="#000" stroke-width="0.9"/>
<line x1="65.40" y1="470.20" x2="65.40" y2="473.20" stroke="#8c8c8c" stroke-width="0.9"/>
<line x1="61.90" y1="473.20" x2="68.90" y2="473.20" stroke="#8c8c8c" stroke-width="0.9"/>
<circle cx="48.7" cy="429.3" r="1.85" fill="#000"/>
<circle cx="48.7" cy="434.9" r="1.85" fill="#000"/>
<circle cx="48.7" cy="445.4" r="1.85" fill="#000"/>
<circle cx="59.9" cy="466.2" r="1.85" fill="#000"/>
<circle cx="70.9" cy="466.7" r="1.85" fill="#000"/>
<circle cx="65.0" cy="476.8" r="1.85" fill="#000"/>
<circle cx="90.6" cy="458.2" r="1.85" fill="#000"/>
<circle cx="96.4" cy="458.9" r="1.85" fill="#000"/>
<circle cx="101.5" cy="460.4" r="1.85" fill="#000"/>
<circle cx="91.3" cy="462.6" r="1.85" fill="#000"/>
<circle cx="107.4" cy="480.4" r="1.85" fill="#000"/>
<circle cx="110.7" cy="477.9" r="1.85" fill="#000"/>
<circle cx="114.7" cy="480.1" r="1.85" fill="#000"/>
<circle cx="118.3" cy="479.7" r="1.85" fill="#000"/>
<polyline points="50.40,394.70 50.40,390.30 98.20,390.30 98.20,401.30" fill="none" stroke="#000" stroke-width="0.9"/>
<path d="M71.00,384.65L71.00,388.75M69.22,385.68L72.78,387.72M72.78,385.68L69.22,387.72M76.40,384.65L76.40,388.75M74.62,385.68L78.18,387.72M78.18,385.68L74.62,387.72M81.80,384.65L81.80,388.75M80.02,385.68L83.58,387.72M83.58,385.68L80.02,387.72" stroke="#111" stroke-width="1.15" stroke-linecap="butt" fill="none"/>
<polyline points="67.20,409.70 67.20,405.40 114.40,405.40 114.40,418.50" fill="none" stroke="#000" stroke-width="0.9"/>
<path d="M91.30,399.25L91.30,403.35M89.52,400.28L93.08,402.32M93.08,400.28L89.52,402.32" stroke="#111" stroke-width="1.15" stroke-linecap="butt" fill="none"/>
<polyline points="47.80,422.40 47.80,415.90 65.30,415.90 65.30,458.20" fill="none" stroke="#000" stroke-width="0.9"/>
<path d="M51.30,408.75L51.30,412.85M49.52,409.78L53.08,411.82M53.08,409.78L49.52,411.82M56.70,408.75L56.70,412.85M54.92,409.78L58.48,411.82M58.48,409.78L54.92,411.82M62.10,408.75L62.10,412.85M60.32,409.78L63.88,411.82M63.88,409.78L60.32,411.82" stroke="#111" stroke-width="1.15" stroke-linecap="butt" fill="none"/>
<polyline points="95.30,452.40 95.30,445.50 112.50,445.50 112.50,469.20" fill="none" stroke="#000" stroke-width="0.9"/>
<path d="M100.60,438.95L100.60,443.05M98.82,439.98L102.38,442.02M102.38,439.98L98.82,442.02M106.00,438.95L106.00,443.05M104.22,439.98L107.78,442.02M107.78,439.98L104.22,442.02" stroke="#111" stroke-width="1.15" stroke-linecap="butt" fill="none"/>
<text x="8.5" y="492.0" font-size="8.6" font-weight="normal" text-anchor="start" fill="#e8892f">U1866A</text>
<path d="M45.40,488.20H49.00M61.60,488.20H67.60M64.60,485.20V491.20M92.40,488.20H96.00M109.20,488.20H115.20M112.20,485.20V491.20" stroke="#1a1a1a" stroke-width="1.0" fill="none"/>
<text x="211.4" y="368.0" font-size="10.5" font-weight="bold" text-anchor="middle" fill="#111">Proliferation</text>
<line x1="170.70" y1="388.90" x2="170.70" y2="482.00" stroke="#111" stroke-width="1.1"/>
<line x1="170.70" y1="481.50" x2="261.40" y2="481.50" stroke="#000" stroke-width="1.1"/>
<line x1="166.90" y1="463.08" x2="170.70" y2="463.08" stroke="#000" stroke-width="1.1"/>
<text x="165.7" y="465.7" font-size="7.3" font-weight="bold" text-anchor="end" fill="#111">0.2</text>
<line x1="166.90" y1="444.66" x2="170.70" y2="444.66" stroke="#000" stroke-width="1.1"/>
<text x="165.7" y="447.3" font-size="7.3" font-weight="bold" text-anchor="end" fill="#111">0.4</text>
<line x1="166.90" y1="426.24" x2="170.70" y2="426.24" stroke="#000" stroke-width="1.1"/>
<text x="165.7" y="428.8" font-size="7.3" font-weight="bold" text-anchor="end" fill="#111">0.6</text>
<line x1="166.90" y1="407.82" x2="170.70" y2="407.82" stroke="#000" stroke-width="1.1"/>
<text x="165.7" y="410.4" font-size="7.3" font-weight="bold" text-anchor="end" fill="#111">0.8</text>
<line x1="166.90" y1="389.40" x2="170.70" y2="389.40" stroke="#000" stroke-width="1.1"/>
<text x="165.7" y="392.0" font-size="7.3" font-weight="bold" text-anchor="end" fill="#111">1.0</text>
<text x="150.0" y="435.6" font-size="7.5" font-weight="bold" text-anchor="middle" fill="#111" transform="rotate(-90 150 435.6)">Division Index</text>
<rect x="178.35" y="414.40" width="12.90" height="67.10" fill="#fff" stroke="#000" stroke-width="1.3"/>
<rect x="194.75" y="470.40" width="12.50" height="11.10" fill="#fff" stroke="#000" stroke-width="1.3"/>
<rect x="225.45" y="437.30" width="12.90" height="44.20" fill="#a1a2a6" stroke="#000" stroke-width="1.3"/>
<rect x="241.85" y="480.40" width="12.20" height="1.10" fill="#a1a2a6" stroke="#000" stroke-width="1.3"/>
<line x1="184.80" y1="410.40" x2="184.80" y2="414.40" stroke="#000" stroke-width="0.9"/>
<line x1="181.30" y1="410.40" x2="188.30" y2="410.40" stroke="#000" stroke-width="0.9"/>
<line x1="184.80" y1="414.40" x2="184.80" y2="419.30" stroke="#8c8c8c" stroke-width="0.9"/>
<line x1="181.30" y1="419.30" x2="188.30" y2="419.30" stroke="#8c8c8c" stroke-width="0.9"/>
<line x1="201.00" y1="466.90" x2="201.00" y2="470.40" stroke="#000" stroke-width="0.9"/>
<line x1="197.50" y1="466.90" x2="204.50" y2="466.90" stroke="#000" stroke-width="0.9"/>
<line x1="201.00" y1="470.40" x2="201.00" y2="473.10" stroke="#8c8c8c" stroke-width="0.9"/>
<line x1="197.50" y1="473.10" x2="204.50" y2="473.10" stroke="#8c8c8c" stroke-width="0.9"/>
<line x1="231.90" y1="433.50" x2="231.90" y2="437.30" stroke="#000" stroke-width="0.9"/>
<line x1="228.40" y1="433.50" x2="235.40" y2="433.50" stroke="#000" stroke-width="0.9"/>
<circle cx="179.2" cy="405.1" r="1.85" fill="#000"/>
<circle cx="190.4" cy="408.9" r="1.85" fill="#000"/>
<circle cx="184.9" cy="428.3" r="1.85" fill="#000"/>
<circle cx="195.6" cy="465.7" r="1.85" fill="#000"/>
<circle cx="206.6" cy="463.1" r="1.85" fill="#000"/>
<circle cx="200.9" cy="472.8" r="1.85" fill="#000"/>
<circle cx="200.9" cy="477.3" r="1.85" fill="#000"/>
<circle cx="231.5" cy="429.8" r="1.85" fill="#000"/>
<circle cx="231.5" cy="433.5" r="1.85" fill="#000"/>
<circle cx="226.3" cy="442.9" r="1.85" fill="#000"/>
<circle cx="237.2" cy="440.0" r="1.85" fill="#000"/>
<circle cx="242.0" cy="480.9" r="1.85" fill="#000"/>
<circle cx="246.0" cy="477.9" r="1.85" fill="#000"/>
<circle cx="249.9" cy="480.6" r="1.85" fill="#000"/>
<circle cx="253.5" cy="478.4" r="1.85" fill="#000"/>
<polyline points="182.90,383.20 182.90,379.70 230.50,379.70 230.50,389.70" fill="none" stroke="#000" stroke-width="0.9"/>
<path d="M203.00,373.95L203.00,378.05M201.22,374.98L204.78,377.02M204.78,374.98L201.22,377.02M208.40,373.95L208.40,378.05M206.62,374.98L210.18,377.02M210.18,374.98L206.62,377.02" stroke="#111" stroke-width="1.15" stroke-linecap="butt" fill="none"/>
<polyline points="183.20,399.10 183.20,392.70 201.20,392.70 201.20,435.50" fill="none" stroke="#000" stroke-width="0.9"/>
<path d="M186.50,386.15L186.50,390.25M184.72,387.18L188.28,389.22M188.28,387.18L184.72,389.22M191.90,386.15L191.90,390.25M190.12,387.18L193.68,389.22M193.68,387.18L190.12,389.22M197.30,386.15L197.30,390.25M195.52,387.18L199.08,389.22M199.08,387.18L195.52,389.22" stroke="#111" stroke-width="1.15" stroke-linecap="butt" fill="none"/>
<polyline points="230.80,421.60 230.80,415.10 248.40,415.10 248.40,457.40" fill="none" stroke="#000" stroke-width="0.9"/>
<path d="M236.60,408.35L236.60,412.45M234.82,409.38L238.38,411.42M238.38,409.38L234.82,411.42M242.00,408.35L242.00,412.45M240.22,409.38L243.78,411.42M243.78,409.38L240.22,411.42" stroke="#111" stroke-width="1.15" stroke-linecap="butt" fill="none"/>
<text x="144.5" y="492.0" font-size="8.6" font-weight="normal" text-anchor="start" fill="#e8892f">U1866A</text>
<path d="M182.20,488.20H185.80M198.50,488.20H204.50M201.50,485.20V491.20M229.70,488.20H233.30M245.50,488.20H251.50M248.50,485.20V491.20" stroke="#1a1a1a" stroke-width="1.0" fill="none"/>
<text x="336.0" y="385.5" font-size="10" font-weight="normal" text-anchor="middle" fill="#111">HD</text>
<text x="437.7" y="385.5" font-size="10" font-weight="normal" text-anchor="middle" fill="#111">CLL</text>
<rect x="289.4" y="389.5" width="91.20000000000005" height="90.69999999999999" fill="none" stroke="#9a9a9a" stroke-width="0.9"/>
<rect x="390.4" y="389.5" width="91.0" height="90.69999999999999" fill="none" stroke="#9a9a9a" stroke-width="0.9"/>
<path d="M289.4,434.6 C291.1,434.6 297.2,434.7 299.6,434.3 C302.0,433.9 302.1,433.4 304.0,432.4 C305.9,431.4 309.0,429.6 311.3,428.1 C313.6,426.6 316.4,424.0 317.8,423.2 C319.2,422.4 318.9,423.6 320.0,423.2 C321.1,422.8 323.3,421.9 324.4,420.8 C325.5,419.7 325.8,418.3 326.6,416.4 C327.5,414.4 328.7,410.2 329.5,409.1 C330.3,408.0 330.7,408.6 331.4,409.5 C332.1,410.4 333.1,414.3 333.9,414.2 C334.7,414.1 335.2,412.6 336.1,409.1 C337.0,405.6 338.1,395.1 339.0,393.0 C339.9,390.9 340.5,393.5 341.2,396.7 C341.9,399.9 342.4,412.2 343.4,412.0 C344.4,411.8 346.0,396.8 347.0,395.2 C348.0,393.6 348.5,399.2 349.2,402.5 C349.9,405.8 350.6,414.6 351.4,414.9 C352.2,415.1 353.3,404.9 354.0,404.0 C354.7,403.1 355.1,407.2 355.8,409.8 C356.5,412.4 357.2,419.8 358.0,419.3 C358.8,418.8 359.9,407.5 360.6,406.6 C361.3,405.8 361.7,410.5 362.4,414.2 C363.1,417.9 363.8,425.6 364.6,428.8 C365.5,432.0 366.2,432.2 367.5,433.2 C368.8,434.2 370.4,434.4 372.6,434.6 C374.8,434.8 379.3,434.6 380.6,434.6" fill="none" stroke="#111" stroke-width="0.9" stroke-linejoin="round"/>
<path d="M289.4,480.2 C298.4,480.1 333.7,480.2 343.4,479.9 C353.1,479.6 346.5,479.1 347.8,478.4 C349.1,477.7 350.5,476.8 351.4,475.5 C352.3,474.2 352.7,471.4 353.3,470.4 C353.9,469.4 354.3,469.0 354.8,469.4 C355.3,469.8 355.9,473.5 356.5,472.6 C357.1,471.7 357.9,468.2 358.7,463.8 C359.5,459.4 360.5,447.8 361.2,446.3 C361.9,444.9 362.5,451.0 363.1,455.1 C363.7,459.2 364.0,467.2 364.6,471.1 C365.2,475.0 365.7,476.9 366.8,478.4 C367.9,479.9 368.8,479.9 371.1,480.2 C373.4,480.5 379.0,480.2 380.6,480.2" fill="none" stroke="#ee8a2e" stroke-width="1.1" stroke-linejoin="round"/>
<path d="M390.4,434.6 C393.3,434.6 404.1,434.8 407.6,434.3 C411.1,433.8 410.1,432.9 411.3,431.7 C412.5,430.5 413.8,428.6 414.9,427.3 C416.0,426.0 416.9,425.3 417.8,424.1 C418.7,422.9 419.3,420.5 420.0,420.3 C420.7,420.1 421.5,422.1 422.2,422.7 C422.9,423.3 423.7,423.6 424.4,423.7 C425.1,423.8 425.9,423.0 426.6,423.2 C427.3,423.4 428.0,424.6 428.8,425.1 C429.6,425.6 430.6,425.6 431.7,426.2 C432.8,426.8 434.3,428.2 435.4,428.8 C436.5,429.4 437.3,429.0 438.3,429.5 C439.3,430.0 440.1,431.6 441.2,432.0 C442.3,432.4 443.8,432.2 444.9,432.0 C446.0,431.8 446.9,431.3 447.8,430.5 C448.7,429.7 449.6,427.7 450.4,427.3 C451.2,426.9 451.8,428.7 452.4,428.1 C453.0,427.5 453.7,425.2 454.3,423.7 C454.9,422.2 455.5,419.3 456.1,419.3 C456.7,419.3 457.3,423.6 458.0,423.7 C458.7,423.8 459.5,424.1 460.2,420.0 C460.9,415.9 461.7,399.9 462.4,398.9 C463.1,397.9 464.0,409.5 464.6,414.2 C465.2,418.9 465.3,424.1 466.0,427.3 C466.7,430.5 467.8,432.0 468.9,433.2 C470.0,434.4 470.5,434.4 472.6,434.6 C474.7,434.8 479.9,434.6 481.4,434.6" fill="none" stroke="#111" stroke-width="0.9" stroke-linejoin="round"/>
<path d="M390.4,480.2 C395.6,480.1 415.4,480.0 421.5,479.9 C427.6,479.8 425.4,479.6 427.3,479.6 C429.2,479.7 431.0,480.2 433.2,480.2 C435.4,480.2 438.1,479.7 440.5,479.6 C442.9,479.6 446.0,480.2 447.8,479.9 C449.6,479.6 450.4,478.8 451.4,477.7 C452.4,476.6 452.9,474.7 453.6,473.3 C454.3,471.9 455.0,470.3 455.8,469.4 C456.6,468.5 457.9,468.7 458.7,467.9 C459.5,467.1 460.0,465.9 460.6,464.6 C461.2,463.3 461.9,460.2 462.4,460.2 C462.9,460.2 463.3,462.3 463.8,464.6 C464.3,466.9 464.7,471.6 465.3,474.0 C465.9,476.4 466.5,478.2 467.5,479.2 C468.5,480.2 468.8,480.0 471.1,480.2 C473.4,480.4 479.7,480.2 481.4,480.2" fill="none" stroke="#ee8a2e" stroke-width="1.1" stroke-linejoin="round"/>
<line x1="334.19" y1="480.20" x2="334.19" y2="481.70" stroke="#555" stroke-width="0.6"/>
<line x1="338.62" y1="480.20" x2="338.62" y2="481.70" stroke="#555" stroke-width="0.6"/>
<line x1="341.77" y1="480.20" x2="341.77" y2="481.70" stroke="#555" stroke-width="0.6"/>
<line x1="344.21" y1="480.20" x2="344.21" y2="481.70" stroke="#555" stroke-width="0.6"/>
<line x1="346.21" y1="480.20" x2="346.21" y2="481.70" stroke="#555" stroke-width="0.6"/>
<line x1="347.90" y1="480.20" x2="347.90" y2="481.70" stroke="#555" stroke-width="0.6"/>
<line x1="349.36" y1="480.20" x2="349.36" y2="481.70" stroke="#555" stroke-width="0.6"/>
<line x1="350.65" y1="480.20" x2="350.65" y2="481.70" stroke="#555" stroke-width="0.6"/>
<line x1="358.87" y1="480.20" x2="358.87" y2="481.70" stroke="#555" stroke-width="0.6"/>
<line x1="363.01" y1="480.20" x2="363.01" y2="481.70" stroke="#555" stroke-width="0.6"/>
<line x1="365.95" y1="480.20" x2="365.95" y2="481.70" stroke="#555" stroke-width="0.6"/>
<line x1="368.23" y1="480.20" x2="368.23" y2="481.70" stroke="#555" stroke-width="0.6"/>
<line x1="370.09" y1="480.20" x2="370.09" y2="481.70" stroke="#555" stroke-width="0.6"/>
<line x1="371.66" y1="480.20" x2="371.66" y2="481.70" stroke="#555" stroke-width="0.6"/>
<line x1="373.02" y1="480.20" x2="373.02" y2="481.70" stroke="#555" stroke-width="0.6"/>
<line x1="374.22" y1="480.20" x2="374.22" y2="481.70" stroke="#555" stroke-width="0.6"/>
<line x1="300.65" y1="480.20" x2="300.65" y2="481.70" stroke="#555" stroke-width="0.6"/>
<line x1="305.50" y1="480.20" x2="305.50" y2="481.70" stroke="#555" stroke-width="0.6"/>
<line x1="315.81" y1="480.20" x2="315.81" y2="481.70" stroke="#555" stroke-width="0.6"/>
<line x1="321.13" y1="480.20" x2="321.13" y2="481.70" stroke="#555" stroke-width="0.6"/>
<text x="294.8" y="490.4" font-size="6.8" font-weight="normal" text-anchor="middle" fill="#333">-10</text>
<text x="298.6" y="487.2" font-size="5" font-weight="normal" text-anchor="start" fill="#333">3</text>
<line x1="295.80" y1="480.20" x2="295.80" y2="482.40" stroke="#444" stroke-width="0.7"/>
<text x="310.5" y="490.4" font-size="6.8" font-weight="normal" text-anchor="middle" fill="#333">0</text>
<line x1="310.50" y1="480.20" x2="310.50" y2="482.40" stroke="#444" stroke-width="0.7"/>
<text x="325.6" y="490.4" font-size="6.8" font-weight="normal" text-anchor="middle" fill="#333">10</text>
<text x="329.4" y="487.2" font-size="5" font-weight="normal" text-anchor="start" fill="#333">3</text>
<line x1="326.60" y1="480.20" x2="326.60" y2="482.40" stroke="#444" stroke-width="0.7"/>
<text x="350.8" y="490.4" font-size="6.8" font-weight="normal" text-anchor="middle" fill="#333">10</text>
<text x="354.6" y="487.2" font-size="5" font-weight="normal" text-anchor="start" fill="#333">4</text>
<line x1="351.80" y1="480.20" x2="351.80" y2="482.40" stroke="#444" stroke-width="0.7"/>
<text x="374.3" y="490.4" font-size="6.8" font-weight="normal" text-anchor="middle" fill="#333">10</text>
<text x="378.1" y="487.2" font-size="5" font-weight="normal" text-anchor="start" fill="#333">5</text>
<line x1="375.30" y1="480.20" x2="375.30" y2="482.40" stroke="#444" stroke-width="0.7"/>
<rect x="308.3" y="480.5" width="3.6" height="1.6" fill="#222"/>
<line x1="435.09" y1="480.20" x2="435.09" y2="481.70" stroke="#555" stroke-width="0.6"/>
<line x1="439.70" y1="480.20" x2="439.70" y2="481.70" stroke="#555" stroke-width="0.6"/>
<line x1="442.97" y1="480.20" x2="442.97" y2="481.70" stroke="#555" stroke-width="0.6"/>
<line x1="445.51" y1="480.20" x2="445.51" y2="481.70" stroke="#555" stroke-width="0.6"/>
<line x1="447.59" y1="480.20" x2="447.59" y2="481.70" stroke="#555" stroke-width="0.6"/>
<line x1="449.34" y1="480.20" x2="449.34" y2="481.70" stroke="#555" stroke-width="0.6"/>
<line x1="450.86" y1="480.20" x2="450.86" y2="481.70" stroke="#555" stroke-width="0.6"/>
<line x1="452.20" y1="480.20" x2="452.20" y2="481.70" stroke="#555" stroke-width="0.6"/>
<line x1="460.81" y1="480.20" x2="460.81" y2="481.70" stroke="#555" stroke-width="0.6"/>
<line x1="465.14" y1="480.20" x2="465.14" y2="481.70" stroke="#555" stroke-width="0.6"/>
<line x1="468.21" y1="480.20" x2="468.21" y2="481.70" stroke="#555" stroke-width="0.6"/>
<line x1="470.59" y1="480.20" x2="470.59" y2="481.70" stroke="#555" stroke-width="0.6"/>
<line x1="472.54" y1="480.20" x2="472.54" y2="481.70" stroke="#555" stroke-width="0.6"/>
<line x1="474.19" y1="480.20" x2="474.19" y2="481.70" stroke="#555" stroke-width="0.6"/>
<line x1="475.62" y1="480.20" x2="475.62" y2="481.70" stroke="#555" stroke-width="0.6"/>
<line x1="476.87" y1="480.20" x2="476.87" y2="481.70" stroke="#555" stroke-width="0.6"/>
<line x1="402.25" y1="480.20" x2="402.25" y2="481.70" stroke="#555" stroke-width="0.6"/>
<line x1="407.10" y1="480.20" x2="407.10" y2="481.70" stroke="#555" stroke-width="0.6"/>
<line x1="417.08" y1="480.20" x2="417.08" y2="481.70" stroke="#555" stroke-width="0.6"/>
<line x1="422.07" y1="480.20" x2="422.07" y2="481.70" stroke="#555" stroke-width="0.6"/>
<text x="396.4" y="490.4" font-size="6.8" font-weight="normal" text-anchor="middle" fill="#333">-10</text>
<text x="400.2" y="487.2" font-size="5" font-weight="normal" text-anchor="start" fill="#333">3</text>
<line x1="397.40" y1="480.20" x2="397.40" y2="482.40" stroke="#444" stroke-width="0.7"/>
<text x="412.1" y="490.4" font-size="6.8" font-weight="normal" text-anchor="middle" fill="#333">0</text>
<line x1="412.10" y1="480.20" x2="412.10" y2="482.40" stroke="#444" stroke-width="0.7"/>
<text x="426.2" y="490.4" font-size="6.8" font-weight="normal" text-anchor="middle" fill="#333">10</text>
<text x="430.0" y="487.2" font-size="5" font-weight="normal" text-anchor="start" fill="#333">3</text>
<line x1="427.20" y1="480.20" x2="427.20" y2="482.40" stroke="#444" stroke-width="0.7"/>
<text x="452.4" y="490.4" font-size="6.8" font-weight="normal" text-anchor="middle" fill="#333">10</text>
<text x="456.2" y="487.2" font-size="5" font-weight="normal" text-anchor="start" fill="#333">4</text>
<line x1="453.40" y1="480.20" x2="453.40" y2="482.40" stroke="#444" stroke-width="0.7"/>
<text x="477.0" y="490.4" font-size="6.8" font-weight="normal" text-anchor="middle" fill="#333">10</text>
<text x="480.8" y="487.2" font-size="5" font-weight="normal" text-anchor="start" fill="#333">5</text>
<line x1="478.00" y1="480.20" x2="478.00" y2="482.40" stroke="#444" stroke-width="0.7"/>
<rect x="409.9" y="480.5" width="3.6" height="1.6" fill="#222"/>
<line x1="290.50" y1="495.00" x2="332.50" y2="495.00" stroke="#8a8a8a" stroke-width="1.2"/>
<text x="310.8" y="503.0" font-size="9" font-weight="normal" text-anchor="middle" fill="#222">CTV</text>
<circle cx="491.7" cy="425.4" r="4.2" fill="#000"/>
<circle cx="491.7" cy="436.4" r="4.2" fill="#ee8a2e"/>
<text x="500.7" y="425.4" font-size="8.8" font-weight="normal" text-anchor="start" fill="#111" textLength="16.4" lengthAdjust="spacingAndGlyphs">Stim</text>
<text x="500.7" y="436.2" font-size="8.8" font-weight="normal" text-anchor="start" fill="#111" textLength="54.3" lengthAdjust="spacingAndGlyphs">Stim +U1866A</text>
<text x="10.0" y="521.0" font-size="16.5" font-weight="bold" text-anchor="start" fill="#000">D</text>
<text x="81.0" y="526.5" font-size="10.5" font-weight="bold" text-anchor="middle" fill="#111">Activation</text>
<line x1="34.20" y1="559.10" x2="34.20" y2="650.80" stroke="#111" stroke-width="1.1"/>
<line x1="34.20" y1="650.30" x2="124.90" y2="650.30" stroke="#000" stroke-width="1.1"/>
<line x1="30.40" y1="650.30" x2="34.20" y2="650.30" stroke="#000" stroke-width="1.1"/>
<text x="29.2" y="652.9" font-size="7.3" font-weight="bold" text-anchor="end" fill="#111">0</text>
<line x1="30.40" y1="632.16" x2="34.20" y2="632.16" stroke="#000" stroke-width="1.1"/>
<text x="29.2" y="634.8" font-size="7.3" font-weight="bold" text-anchor="end" fill="#111">20</text>
<line x1="30.40" y1="614.02" x2="34.20" y2="614.02" stroke="#000" stroke-width="1.1"/>
<text x="29.2" y="616.6" font-size="7.3" font-weight="bold" text-anchor="end" fill="#111">40</text>
<line x1="30.40" y1="595.88" x2="34.20" y2="595.88" stroke="#000" stroke-width="1.1"/>
<text x="29.2" y="598.5" font-size="7.3" font-weight="bold" text-anchor="end" fill="#111">60</text>
<line x1="30.40" y1="577.74" x2="34.20" y2="577.74" stroke="#000" stroke-width="1.1"/>
<text x="29.2" y="580.3" font-size="7.3" font-weight="bold" text-anchor="end" fill="#111">80</text>
<line x1="30.40" y1="559.60" x2="34.20" y2="559.60" stroke="#000" stroke-width="1.1"/>
<text x="29.2" y="562.2" font-size="7.3" font-weight="bold" text-anchor="end" fill="#111">100</text>
<text x="14.5" y="603.4" font-size="7.5" font-weight="bold" text-anchor="middle" fill="#111" transform="rotate(-90 14.5 603.4)">%CD25</text>
<rect x="41.85" y="585.30" width="12.90" height="65.00" fill="#fff" stroke="#000" stroke-width="1.3"/>
<rect x="57.85" y="623.10" width="12.90" height="27.20" fill="#fff" stroke="#000" stroke-width="1.3"/>
<rect x="88.65" y="615.60" width="12.70" height="34.70" fill="#a1a2a6" stroke="#000" stroke-width="1.3"/>
<rect x="104.65" y="627.20" width="12.10" height="23.10" fill="#a1a2a6" stroke="#000" stroke-width="1.3"/>
<line x1="48.30" y1="583.80" x2="48.30" y2="585.30" stroke="#000" stroke-width="0.9"/>
<line x1="44.80" y1="583.80" x2="51.80" y2="583.80" stroke="#000" stroke-width="0.9"/>
<line x1="48.30" y1="585.30" x2="48.30" y2="586.80" stroke="#8c8c8c" stroke-width="0.9"/>
<line x1="44.80" y1="586.80" x2="51.80" y2="586.80" stroke="#8c8c8c" stroke-width="0.9"/>
<line x1="64.30" y1="620.10" x2="64.30" y2="623.10" stroke="#000" stroke-width="0.9"/>
<line x1="60.80" y1="620.10" x2="67.80" y2="620.10" stroke="#000" stroke-width="0.9"/>
<line x1="64.30" y1="623.10" x2="64.30" y2="625.70" stroke="#8c8c8c" stroke-width="0.9"/>
<line x1="60.80" y1="625.70" x2="67.80" y2="625.70" stroke="#8c8c8c" stroke-width="0.9"/>
<line x1="95.00" y1="608.80" x2="95.00" y2="615.60" stroke="#000" stroke-width="0.9"/>
<line x1="91.50" y1="608.80" x2="98.50" y2="608.80" stroke="#000" stroke-width="0.9"/>
<line x1="110.70" y1="622.70" x2="110.70" y2="627.20" stroke="#000" stroke-width="0.9"/>
<line x1="107.20" y1="622.70" x2="114.20" y2="622.70" stroke="#000" stroke-width="0.9"/>
<circle cx="43.2" cy="582.6" r="1.85" fill="#000"/>
<circle cx="53.9" cy="581.1" r="1.85" fill="#000"/>
<circle cx="43.2" cy="587.5" r="1.85" fill="#000"/>
<circle cx="48.4" cy="586.8" r="1.85" fill="#000"/>
<circle cx="53.9" cy="586.8" r="1.85" fill="#000"/>
<circle cx="43.2" cy="591.3" r="1.85" fill="#000"/>
<circle cx="48.4" cy="590.1" r="1.85" fill="#000"/>
<circle cx="53.9" cy="590.5" r="1.85" fill="#000"/>
<circle cx="59.1" cy="612.2" r="1.85" fill="#000"/>
<circle cx="69.6" cy="613.0" r="1.85" fill="#000"/>
<circle cx="64.4" cy="618.5" r="1.85" fill="#000"/>
<circle cx="59.1" cy="626.1" r="1.85" fill="#000"/>
<circle cx="64.4" cy="627.2" r="1.85" fill="#000"/>
<circle cx="69.6" cy="630.9" r="1.85" fill="#000"/>
<circle cx="59.1" cy="633.9" r="1.85" fill="#000"/>
<circle cx="94.6" cy="576.3" r="1.85" fill="#000"/>
<circle cx="94.6" cy="602.8" r="1.85" fill="#000"/>
<circle cx="94.6" cy="616.4" r="1.85" fill="#000"/>
<circle cx="89.5" cy="619.4" r="1.85" fill="#000"/>
<circle cx="94.6" cy="622.4" r="1.85" fill="#000"/>
<circle cx="89.5" cy="628.7" r="1.85" fill="#000"/>
<circle cx="94.6" cy="627.5" r="1.85" fill="#000"/>
<circle cx="99.5" cy="628.7" r="1.85" fill="#000"/>
<circle cx="110.7" cy="599.1" r="1.85" fill="#000"/>
<circle cx="105.5" cy="624.5" r="1.85" fill="#000"/>
<circle cx="110.7" cy="624.5" r="1.85" fill="#000"/>
<circle cx="110.7" cy="628.7" r="1.85" fill="#000"/>
<circle cx="116.0" cy="629.0" r="1.85" fill="#000"/>
<circle cx="110.7" cy="632.4" r="1.85" fill="#000"/>
<circle cx="113.7" cy="636.4" r="1.85" fill="#000"/>
<circle cx="107.7" cy="639.4" r="1.85" fill="#000"/>
<polyline points="48.70,548.70 48.70,545.00 96.50,545.00 96.50,555.40" fill="none" stroke="#000" stroke-width="0.9"/>
<path d="M68.70,538.75L68.70,542.85M66.92,539.77L70.48,541.82M70.48,539.77L66.92,541.82M74.10,538.75L74.10,542.85M72.32,539.77L75.88,541.82M75.88,539.77L72.32,541.82M79.50,538.75L79.50,542.85M77.72,539.77L81.28,541.82M81.28,539.77L77.72,541.82" stroke="#111" stroke-width="1.15" stroke-linecap="butt" fill="none"/>
<polyline points="48.40,575.60 48.40,565.60 64.70,565.60 64.70,607.00" fill="none" stroke="#000" stroke-width="0.9"/>
<path d="M48.40,557.55L48.40,561.65M46.62,558.58L50.18,560.62M50.18,558.58L46.62,560.62M53.80,557.55L53.80,561.65M52.02,558.58L55.58,560.62M55.58,558.58L52.02,560.62M59.20,557.55L59.20,561.65M57.42,558.58L60.98,560.62M60.98,558.58L57.42,560.62M64.60,557.55L64.60,561.65M62.82,558.58L66.38,560.62M66.38,558.58L62.82,560.62" stroke="#111" stroke-width="1.15" stroke-linecap="butt" fill="none"/>
<polyline points="94.60,570.40 94.60,565.60 110.70,565.60 110.70,593.50" fill="none" stroke="#000" stroke-width="0.9"/>
<path d="M100.10,557.55L100.10,561.65M98.32,558.58L101.88,560.62M101.88,558.58L98.32,560.62M105.50,557.55L105.50,561.65M103.72,558.58L107.28,560.62M107.28,558.58L103.72,560.62" stroke="#111" stroke-width="1.15" stroke-linecap="butt" fill="none"/>
<text x="10.5" y="662.3" font-size="8.6" font-weight="normal" text-anchor="start" fill="#222">U1866A</text>
<path d="M47.50,659.00H51.10M63.80,659.00H69.80M66.80,656.00V662.00M94.50,659.00H98.10M110.90,659.00H116.90M113.90,656.00V662.00" stroke="#1a1a1a" stroke-width="1.0" fill="none"/>
<text x="144.0" y="517.8" font-size="16.5" font-weight="bold" text-anchor="start" fill="#000">E</text>
<text x="205.2" y="521.3" font-size="10.5" font-weight="bold" text-anchor="middle" fill="#111">LDLR</text>
<line x1="170.20" y1="557.10" x2="170.20" y2="649.90" stroke="#111" stroke-width="1.1"/>
<line x1="170.20" y1="649.40" x2="262.90" y2="649.40" stroke="#000" stroke-width="1.1"/>
<line x1="166.40" y1="649.40" x2="170.20" y2="649.40" stroke="#000" stroke-width="1.1"/>
<text x="165.2" y="652.0" font-size="7.3" font-weight="bold" text-anchor="end" fill="#111">0</text>
<line x1="166.40" y1="626.45" x2="170.20" y2="626.45" stroke="#000" stroke-width="1.1"/>
<text x="165.2" y="629.0" font-size="7.3" font-weight="bold" text-anchor="end" fill="#111">100</text>
<line x1="166.40" y1="603.50" x2="170.20" y2="603.50" stroke="#000" stroke-width="1.1"/>
<text x="165.2" y="606.1" font-size="7.3" font-weight="bold" text-anchor="end" fill="#111">200</text>
<line x1="166.40" y1="580.55" x2="170.20" y2="580.55" stroke="#000" stroke-width="1.1"/>
<text x="165.2" y="583.1" font-size="7.3" font-weight="bold" text-anchor="end" fill="#111">300</text>
<line x1="166.40" y1="557.60" x2="170.20" y2="557.60" stroke="#000" stroke-width="1.1"/>
<text x="165.2" y="560.2" font-size="7.3" font-weight="bold" text-anchor="end" fill="#111">400</text>
<text x="150.0" y="603.6" font-size="7.5" font-weight="bold" text-anchor="middle" fill="#111" transform="rotate(-90 150 603.6)">gMFI</text>
<rect x="178.85" y="642.40" width="12.10" height="7.00" fill="#fff" stroke="#000" stroke-width="1.3"/>
<rect x="195.15" y="583.60" width="12.30" height="65.80" fill="#fff" stroke="#000" stroke-width="1.3"/>
<rect x="225.15" y="642.40" width="12.80" height="7.00" fill="#a1a2a6" stroke="#000" stroke-width="1.3"/>
<rect x="241.85" y="626.40" width="12.50" height="23.00" fill="#a1a2a6" stroke="#000" stroke-width="1.3"/>
<line x1="201.30" y1="576.20" x2="201.30" y2="583.60" stroke="#000" stroke-width="0.9"/>
<line x1="197.80" y1="576.20" x2="204.80" y2="576.20" stroke="#000" stroke-width="0.9"/>
<line x1="201.30" y1="583.60" x2="201.30" y2="590.50" stroke="#8c8c8c" stroke-width="0.9"/>
<line x1="197.80" y1="590.50" x2="204.80" y2="590.50" stroke="#8c8c8c" stroke-width="0.9"/>
<line x1="248.10" y1="621.50" x2="248.10" y2="626.40" stroke="#000" stroke-width="0.9"/>
<line x1="244.60" y1="621.50" x2="251.60" y2="621.50" stroke="#000" stroke-width="0.9"/>
<line x1="184.90" y1="641.40" x2="184.90" y2="642.40" stroke="#000" stroke-width="0.9"/>
<line x1="181.40" y1="641.40" x2="188.40" y2="641.40" stroke="#000" stroke-width="0.9"/>
<line x1="231.50" y1="641.40" x2="231.50" y2="642.40" stroke="#000" stroke-width="0.9"/>
<line x1="228.00" y1="641.40" x2="235.00" y2="641.40" stroke="#000" stroke-width="0.9"/>
<circle cx="179.7" cy="643.1" r="1.85" fill="#000"/>
<circle cx="183.0" cy="641.6" r="1.85" fill="#000"/>
<circle cx="186.7" cy="642.8" r="1.85" fill="#000"/>
<circle cx="190.1" cy="642.8" r="1.85" fill="#000"/>
<circle cx="201.2" cy="563.9" r="1.85" fill="#000"/>
<circle cx="195.7" cy="583.6" r="1.85" fill="#000"/>
<circle cx="201.2" cy="584.1" r="1.85" fill="#000"/>
<circle cx="206.6" cy="585.6" r="1.85" fill="#000"/>
<circle cx="201.2" cy="600.2" r="1.85" fill="#000"/>
<circle cx="226.3" cy="643.1" r="1.85" fill="#000"/>
<circle cx="229.3" cy="641.6" r="1.85" fill="#000"/>
<circle cx="233.0" cy="643.1" r="1.85" fill="#000"/>
<circle cx="237.1" cy="642.8" r="1.85" fill="#000"/>
<circle cx="248.0" cy="609.1" r="1.85" fill="#000"/>
<circle cx="248.0" cy="613.5" r="1.85" fill="#000"/>
<circle cx="248.0" cy="626.7" r="1.85" fill="#000"/>
<circle cx="248.0" cy="630.4" r="1.85" fill="#000"/>
<circle cx="242.4" cy="638.7" r="1.85" fill="#000"/>
<circle cx="253.2" cy="637.2" r="1.85" fill="#000"/>
<polyline points="184.70,635.70 184.70,553.50 202.10,553.50 202.10,558.70" fill="none" stroke="#000" stroke-width="0.9"/>
<polyline points="203.40,558.70 203.40,553.50 247.70,553.50 247.70,578.60" fill="none" stroke="#000" stroke-width="0.9"/>
<path d="M185.30,545.15L185.30,549.25M183.52,546.18L187.08,548.23M187.08,546.18L183.52,548.23M190.70,545.15L190.70,549.25M188.92,546.18L192.48,548.23M192.48,546.18L188.92,548.23M196.10,545.15L196.10,549.25M194.32,546.18L197.88,548.23M197.88,546.18L194.32,548.23M201.50,545.15L201.50,549.25M199.72,546.18L203.28,548.23M203.28,546.18L199.72,548.23" stroke="#111" stroke-width="1.15" stroke-linecap="butt" fill="none"/>
<path d="M217.40,545.15L217.40,549.25M215.62,546.18L219.18,548.23M219.18,546.18L215.62,548.23M222.80,545.15L222.80,549.25M221.02,546.18L224.58,548.23M224.58,546.18L221.02,548.23M228.20,545.15L228.20,549.25M226.42,546.18L229.98,548.23M229.98,546.18L226.42,548.23M233.60,545.15L233.60,549.25M231.82,546.18L235.38,548.23M235.38,546.18L231.82,548.23" stroke="#111" stroke-width="1.15" stroke-linecap="butt" fill="none"/>
<polyline points="231.50,635.70 231.50,592.60 247.70,592.60 247.70,603.50" fill="none" stroke="#000" stroke-width="0.9"/>
<path d="M239.70,585.05L239.70,589.15M237.92,586.08L241.48,588.12M241.48,586.08L237.92,588.12" stroke="#111" stroke-width="1.15" stroke-linecap="butt" fill="none"/>
<text x="178.3" y="662.3" font-size="9" font-weight="normal" text-anchor="end" fill="#222" textLength="50.4" lengthAdjust="spacingAndGlyphs">αCD3/αCD28</text>
<path d="M182.90,659.00H186.50M199.70,659.00H205.70M202.70,656.00V662.00M230.80,659.00H234.40M247.20,659.00H253.20M250.20,656.00V662.00" stroke="#1a1a1a" stroke-width="1.0" fill="none"/>
<text x="334.5" y="521.5" font-size="10.5" font-weight="bold" text-anchor="middle" fill="#111">LDLR in CD25</text>
<text x="374.0" y="514.5" font-size="6.5" font-weight="bold" text-anchor="start" fill="#111">high</text>
<line x1="292.40" y1="557.90" x2="292.40" y2="650.60" stroke="#111" stroke-width="1.1"/>
<line x1="292.40" y1="650.10" x2="384.60" y2="650.10" stroke="#000" stroke-width="1.1"/>
<line x1="288.60" y1="650.10" x2="292.40" y2="650.10" stroke="#000" stroke-width="1.1"/>
<text x="287.4" y="652.7" font-size="7.3" font-weight="bold" text-anchor="end" fill="#111">0</text>
<line x1="288.60" y1="627.18" x2="292.40" y2="627.18" stroke="#000" stroke-width="1.1"/>
<text x="287.4" y="629.8" font-size="7.3" font-weight="bold" text-anchor="end" fill="#111">200</text>
<line x1="288.60" y1="604.25" x2="292.40" y2="604.25" stroke="#000" stroke-width="1.1"/>
<text x="287.4" y="606.9" font-size="7.3" font-weight="bold" text-anchor="end" fill="#111">400</text>
<line x1="288.60" y1="581.33" x2="292.40" y2="581.33" stroke="#000" stroke-width="1.1"/>
<text x="287.4" y="583.9" font-size="7.3" font-weight="bold" text-anchor="end" fill="#111">600</text>
<line x1="288.60" y1="558.40" x2="292.40" y2="558.40" stroke="#000" stroke-width="1.1"/>
<text x="287.4" y="561.0" font-size="7.3" font-weight="bold" text-anchor="end" fill="#111">800</text>
<text x="271.5" y="602.8" font-size="7.5" font-weight="bold" text-anchor="middle" fill="#111" transform="rotate(-90 271.5 602.8)">gMFI</text>
<rect x="300.65" y="606.00" width="12.70" height="44.10" fill="#fff" stroke="#000" stroke-width="1.3"/>
<rect x="317.15" y="621.60" width="12.20" height="28.50" fill="#a1a2a6" stroke="#000" stroke-width="1.3"/>
<rect x="347.35" y="585.60" width="12.70" height="64.50" fill="#fff" stroke="#000" stroke-width="1.3"/>
<rect x="363.85" y="615.10" width="12.30" height="35.00" fill="#a1a2a6" stroke="#000" stroke-width="1.3"/>
<line x1="307.00" y1="602.70" x2="307.00" y2="606.00" stroke="#000" stroke-width="0.9"/>
<line x1="303.50" y1="602.70" x2="310.50" y2="602.70" stroke="#000" stroke-width="0.9"/>
<line x1="307.00" y1="606.00" x2="307.00" y2="608.00" stroke="#8c8c8c" stroke-width="0.9"/>
<line x1="303.50" y1="608.00" x2="310.50" y2="608.00" stroke="#8c8c8c" stroke-width="0.9"/>
<line x1="323.20" y1="618.00" x2="323.20" y2="621.60" stroke="#000" stroke-width="0.9"/>
<line x1="319.70" y1="618.00" x2="326.70" y2="618.00" stroke="#000" stroke-width="0.9"/>
<line x1="323.20" y1="621.60" x2="323.20" y2="625.30" stroke="#8c8c8c" stroke-width="0.9"/>
<line x1="319.70" y1="625.30" x2="326.70" y2="625.30" stroke="#8c8c8c" stroke-width="0.9"/>
<line x1="353.70" y1="580.30" x2="353.70" y2="585.60" stroke="#000" stroke-width="0.9"/>
<line x1="350.20" y1="580.30" x2="357.20" y2="580.30" stroke="#000" stroke-width="0.9"/>
<line x1="370.00" y1="610.40" x2="370.00" y2="615.10" stroke="#000" stroke-width="0.9"/>
<line x1="366.50" y1="610.40" x2="373.50" y2="610.40" stroke="#000" stroke-width="0.9"/>
<circle cx="301.4" cy="600.2" r="1.85" fill="#000"/>
<circle cx="312.1" cy="599.7" r="1.85" fill="#000"/>
<circle cx="301.4" cy="612.4" r="1.85" fill="#000"/>
<circle cx="306.7" cy="607.8" r="1.85" fill="#000"/>
<circle cx="312.1" cy="609.2" r="1.85" fill="#000"/>
<circle cx="323.0" cy="608.1" r="1.85" fill="#000"/>
<circle cx="323.0" cy="616.2" r="1.85" fill="#000"/>
<circle cx="317.9" cy="622.4" r="1.85" fill="#000"/>
<circle cx="323.0" cy="623.1" r="1.85" fill="#000"/>
<circle cx="328.6" cy="622.4" r="1.85" fill="#000"/>
<circle cx="317.9" cy="630.0" r="1.85" fill="#000"/>
<circle cx="328.1" cy="630.0" r="1.85" fill="#000"/>
<circle cx="353.7" cy="572.0" r="1.85" fill="#000"/>
<circle cx="348.1" cy="589.1" r="1.85" fill="#000"/>
<circle cx="353.7" cy="588.8" r="1.85" fill="#000"/>
<circle cx="359.2" cy="589.5" r="1.85" fill="#000"/>
<circle cx="369.8" cy="600.2" r="1.85" fill="#000"/>
<circle cx="369.8" cy="607.0" r="1.85" fill="#000"/>
<circle cx="364.6" cy="616.5" r="1.85" fill="#000"/>
<circle cx="369.8" cy="618.0" r="1.85" fill="#000"/>
<circle cx="374.9" cy="616.5" r="1.85" fill="#000"/>
<circle cx="369.8" cy="629.7" r="1.85" fill="#000"/>
<line x1="315.40" y1="650.10" x2="315.40" y2="653.50" stroke="#000" stroke-width="0.9"/>
<line x1="361.70" y1="650.10" x2="361.70" y2="653.50" stroke="#000" stroke-width="0.9"/>
<polyline points="306.70,588.50 306.70,583.20 323.00,583.20 323.00,603.40" fill="none" stroke="#000" stroke-width="0.9"/>
<path d="M314.70,575.35L314.70,579.45M312.92,576.38L316.48,578.42M316.48,576.38L312.92,578.42" stroke="#111" stroke-width="1.15" stroke-linecap="butt" fill="none"/>
<polyline points="353.30,564.70 353.30,559.20 370.00,559.20 370.00,588.80" fill="none" stroke="#000" stroke-width="0.9"/>
<path d="M359.00,551.75L359.00,555.85M357.22,552.77L360.78,554.82M360.78,552.77L357.22,554.82M364.40,551.75L364.40,555.85M362.62,552.77L366.18,554.82M366.18,552.77L362.62,554.82" stroke="#111" stroke-width="1.15" stroke-linecap="butt" fill="none"/>
<text x="316.5" y="662.0" font-size="9" font-weight="normal" text-anchor="middle" fill="#222" textLength="16" lengthAdjust="spacingAndGlyphs">CD4</text>
<text x="362.5" y="662.0" font-size="9" font-weight="normal" text-anchor="middle" fill="#222" textLength="16" lengthAdjust="spacingAndGlyphs">CD8</text>
<text x="403.7" y="517.8" font-size="16.5" font-weight="bold" text-anchor="start" fill="#000">F</text>
<text x="490.0" y="521.0" font-size="10.5" font-weight="bold" text-anchor="middle" fill="#111">LDLR</text>
<line x1="422.20" y1="555.80" x2="422.20" y2="649.80" stroke="#8a8a8a" stroke-width="1.1"/>
<line x1="422.20" y1="649.30" x2="562.40" y2="649.30" stroke="#000" stroke-width="1.1"/>
<line x1="418.40" y1="649.30" x2="422.20" y2="649.30" stroke="#000" stroke-width="1.1"/>
<text x="417.2" y="651.9" font-size="7.3" font-weight="bold" text-anchor="end" fill="#111">0</text>
<line x1="418.40" y1="626.05" x2="422.20" y2="626.05" stroke="#000" stroke-width="1.1"/>
<text x="417.2" y="628.6" font-size="7.3" font-weight="bold" text-anchor="end" fill="#111">200</text>
<line x1="418.40" y1="602.80" x2="422.20" y2="602.80" stroke="#000" stroke-width="1.1"/>
<text x="417.2" y="605.4" font-size="7.3" font-weight="bold" text-anchor="end" fill="#111">400</text>
<line x1="418.40" y1="579.55" x2="422.20" y2="579.55" stroke="#000" stroke-width="1.1"/>
<text x="417.2" y="582.1" font-size="7.3" font-weight="bold" text-anchor="end" fill="#111">600</text>
<line x1="418.40" y1="556.30" x2="422.20" y2="556.30" stroke="#000" stroke-width="1.1"/>
<text x="417.2" y="558.9" font-size="7.3" font-weight="bold" text-anchor="end" fill="#111">800</text>
<text x="400.0" y="602.7" font-size="7.5" font-weight="bold" text-anchor="middle" fill="#111" transform="rotate(-90 400 602.7)">gMFI</text>
<rect x="430.95" y="623.90" width="15.10" height="25.40" fill="#fff" stroke="#000" stroke-width="1.3"/>
<rect x="449.05" y="599.40" width="15.10" height="49.90" fill="#fff" stroke="#000" stroke-width="1.3"/>
<rect x="467.65" y="625.40" width="14.40" height="23.90" fill="#fff" stroke="#000" stroke-width="1.3"/>
<rect x="501.95" y="640.30" width="14.90" height="9.00" fill="#a1a2a6" stroke="#000" stroke-width="1.3"/>
<rect x="520.15" y="624.40" width="14.90" height="24.90" fill="#a1a2a6" stroke="#000" stroke-width="1.3"/>
<rect x="538.55" y="639.50" width="14.60" height="9.80" fill="#a1a2a6" stroke="#000" stroke-width="1.3"/>
<line x1="438.40" y1="619.10" x2="438.40" y2="623.90" stroke="#000" stroke-width="0.9"/>
<line x1="434.90" y1="619.10" x2="441.90" y2="619.10" stroke="#000" stroke-width="0.9"/>
<line x1="438.40" y1="623.90" x2="438.40" y2="627.90" stroke="#8c8c8c" stroke-width="0.9"/>
<line x1="434.90" y1="627.90" x2="441.90" y2="627.90" stroke="#8c8c8c" stroke-width="0.9"/>
<line x1="456.30" y1="593.40" x2="456.30" y2="599.40" stroke="#000" stroke-width="0.9"/>
<line x1="452.80" y1="593.40" x2="459.80" y2="593.40" stroke="#000" stroke-width="0.9"/>
<line x1="456.30" y1="599.40" x2="456.30" y2="604.70" stroke="#8c8c8c" stroke-width="0.9"/>
<line x1="452.80" y1="604.70" x2="459.80" y2="604.70" stroke="#8c8c8c" stroke-width="0.9"/>
<line x1="474.60" y1="621.40" x2="474.60" y2="625.40" stroke="#000" stroke-width="0.9"/>
<line x1="471.10" y1="621.40" x2="478.10" y2="621.40" stroke="#000" stroke-width="0.9"/>
<line x1="474.60" y1="625.40" x2="474.60" y2="627.40" stroke="#8c8c8c" stroke-width="0.9"/>
<line x1="471.10" y1="627.40" x2="478.10" y2="627.40" stroke="#8c8c8c" stroke-width="0.9"/>
<line x1="509.30" y1="637.80" x2="509.30" y2="640.30" stroke="#000" stroke-width="0.9"/>
<line x1="505.80" y1="637.80" x2="512.80" y2="637.80" stroke="#000" stroke-width="0.9"/>
<line x1="527.50" y1="620.30" x2="527.50" y2="624.40" stroke="#000" stroke-width="0.9"/>
<line x1="524.00" y1="620.30" x2="531.00" y2="620.30" stroke="#000" stroke-width="0.9"/>
<line x1="545.60" y1="636.40" x2="545.60" y2="639.50" stroke="#000" stroke-width="0.9"/>
<line x1="542.10" y1="636.40" x2="549.10" y2="636.40" stroke="#000" stroke-width="0.9"/>
<circle cx="438.4" cy="606.6" r="1.85" fill="#000"/>
<circle cx="434.6" cy="618.1" r="1.85" fill="#000"/>
<circle cx="442.1" cy="620.1" r="1.85" fill="#000"/>
<circle cx="438.4" cy="628.9" r="1.85" fill="#000"/>
<circle cx="434.6" cy="633.6" r="1.85" fill="#000"/>
<circle cx="442.1" cy="632.9" r="1.85" fill="#000"/>
<circle cx="456.3" cy="573.2" r="1.85" fill="#000"/>
<circle cx="450.0" cy="594.2" r="1.85" fill="#000"/>
<circle cx="456.3" cy="596.5" r="1.85" fill="#000"/>
<circle cx="456.3" cy="608.1" r="1.85" fill="#000"/>
<circle cx="450.0" cy="611.0" r="1.85" fill="#000"/>
<circle cx="462.6" cy="610.6" r="1.85" fill="#000"/>
<circle cx="474.6" cy="611.0" r="1.85" fill="#000"/>
<circle cx="474.6" cy="621.9" r="1.85" fill="#000"/>
<circle cx="470.8" cy="626.0" r="1.85" fill="#000"/>
<circle cx="478.3" cy="625.7" r="1.85" fill="#000"/>
<circle cx="470.8" cy="632.9" r="1.85" fill="#000"/>
<circle cx="478.3" cy="631.4" r="1.85" fill="#000"/>
<circle cx="509.3" cy="632.5" r="1.85" fill="#000"/>
<circle cx="503.0" cy="638.0" r="1.85" fill="#000"/>
<circle cx="511.3" cy="638.0" r="1.85" fill="#000"/>
<circle cx="515.6" cy="636.9" r="1.85" fill="#000"/>
<circle cx="507.3" cy="641.0" r="1.85" fill="#000"/>
<circle cx="511.3" cy="642.0" r="1.85" fill="#000"/>
<circle cx="515.4" cy="642.8" r="1.85" fill="#000"/>
<circle cx="503.0" cy="644.6" r="1.85" fill="#000"/>
<circle cx="527.5" cy="605.3" r="1.85" fill="#000"/>
<circle cx="523.8" cy="616.8" r="1.85" fill="#000"/>
<circle cx="531.3" cy="620.1" r="1.85" fill="#000"/>
<circle cx="523.8" cy="621.9" r="1.85" fill="#000"/>
<circle cx="523.8" cy="628.2" r="1.85" fill="#000"/>
<circle cx="531.3" cy="627.7" r="1.85" fill="#000"/>
<circle cx="527.5" cy="633.4" r="1.85" fill="#000"/>
<circle cx="527.5" cy="638.3" r="1.85" fill="#000"/>
<circle cx="545.6" cy="623.3" r="1.85" fill="#000"/>
<circle cx="545.6" cy="636.2" r="1.85" fill="#000"/>
<circle cx="541.5" cy="640.5" r="1.85" fill="#000"/>
<circle cx="549.7" cy="640.5" r="1.85" fill="#000"/>
<circle cx="544.0" cy="642.8" r="1.85" fill="#000"/>
<circle cx="549.7" cy="643.6" r="1.85" fill="#000"/>
<circle cx="540.0" cy="643.4" r="1.85" fill="#000"/>
<polyline points="438.80,535.70 438.80,529.90 508.90,529.90 508.90,535.70" fill="none" stroke="#000" stroke-width="0.9"/>
<path d="M472.10,523.35L472.10,527.45M470.32,524.38L473.88,526.42M473.88,524.38L470.32,526.42" stroke="#111" stroke-width="1.15" stroke-linecap="butt" fill="none"/>
<polyline points="456.80,544.20 456.80,538.10 530.40,538.10 530.40,544.20" fill="none" stroke="#000" stroke-width="0.9"/>
<path d="M494.60,532.55L494.60,536.65M492.82,533.58L496.38,535.62M496.38,533.58L492.82,535.62" stroke="#111" stroke-width="1.15" stroke-linecap="butt" fill="none"/>
<polyline points="474.80,554.00 474.80,548.30 544.30,548.30 544.30,554.00" fill="none" stroke="#000" stroke-width="0.9"/>
<path d="M511.00,541.75L511.00,545.85M509.22,542.77L512.78,544.82M512.78,542.77L509.22,544.82" stroke="#111" stroke-width="1.15" stroke-linecap="butt" fill="none"/>
<polyline points="438.10,581.40 438.10,563.20 455.70,563.20 455.70,568.90" fill="none" stroke="#000" stroke-width="0.9"/>
<polyline points="457.20,568.90 457.20,563.20 474.30,563.20 474.30,587.70" fill="none" stroke="#000" stroke-width="0.9"/>
<path d="M447.20,555.15L447.20,559.25M445.42,556.18L448.98,558.23M448.98,556.18L445.42,558.23" stroke="#111" stroke-width="1.15" stroke-linecap="butt" fill="none"/>
<path d="M460.50,555.15L460.50,559.25M458.72,556.18L462.28,558.23M462.28,556.18L458.72,558.23M465.90,555.15L465.90,559.25M464.12,556.18L467.68,558.23M467.68,556.18L464.12,558.23M471.30,555.15L471.30,559.25M469.52,556.18L473.08,558.23M473.08,556.18L469.52,558.23" stroke="#111" stroke-width="1.15" stroke-linecap="butt" fill="none"/>
<polyline points="509.30,615.00 509.30,590.60 526.70,590.60 526.70,596.80" fill="none" stroke="#000" stroke-width="0.9"/>
<polyline points="528.20,596.80 528.20,590.60 546.30,590.60 546.30,615.80" fill="none" stroke="#000" stroke-width="0.9"/>
<path d="M512.60,583.45L512.60,587.55M510.82,584.48L514.38,586.52M514.38,584.48L510.82,586.52M518.00,583.45L518.00,587.55M516.22,584.48L519.78,586.52M519.78,584.48L516.22,586.52M523.40,583.45L523.40,587.55M521.62,584.48L525.18,586.52M525.18,584.48L521.62,586.52" stroke="#111" stroke-width="1.15" stroke-linecap="butt" fill="none"/>
<path d="M535.20,583.45L535.20,587.55M533.42,584.48L536.98,586.52M536.98,584.48L533.42,586.52M540.60,583.45L540.60,587.55M538.82,584.48L542.38,586.52M542.38,584.48L538.82,586.52" stroke="#111" stroke-width="1.15" stroke-linecap="butt" fill="none"/>
<text x="429.0" y="659.2" font-size="9" font-weight="normal" text-anchor="end" fill="#222">Complete</text>
<text x="429.0" y="668.9" font-size="9" font-weight="normal" text-anchor="end" fill="#222" textLength="19.7" lengthAdjust="spacingAndGlyphs">LPDS</text>
<text x="429.0" y="678.0" font-size="9" font-weight="normal" text-anchor="end" fill="#222" textLength="13.8" lengthAdjust="spacingAndGlyphs">LDL</text>
<path d="M436.40,658.40H442.40M439.40,655.40V661.40M456.20,658.40H459.80M473.80,658.40H477.40M506.80,658.40H512.80M509.80,655.40V661.40M526.40,658.40H530.00M544.80,658.40H548.40" stroke="#1a1a1a" stroke-width="1.0" fill="none"/>
<path d="M437.60,667.90H441.20M455.00,667.90H461.00M458.00,664.90V670.90M472.60,667.90H478.60M475.60,664.90V670.90M508.00,667.90H511.60M525.20,667.90H531.20M528.20,664.90V670.90M543.60,667.90H549.60M546.60,664.90V670.90" stroke="#1a1a1a" stroke-width="1.0" fill="none"/>
<path d="M437.60,676.30H441.20M456.20,676.30H459.80M472.60,676.30H478.60M475.60,673.30V679.30M508.00,676.30H511.60M526.40,676.30H530.00M543.60,676.30H549.60M546.60,673.30V679.30" stroke="#1a1a1a" stroke-width="1.0" fill="none"/>
<text x="10.0" y="678.6" font-size="16.5" font-weight="bold" text-anchor="start" fill="#000">G</text>
<text x="97.3" y="683.5" font-size="10.5" font-weight="bold" text-anchor="middle" fill="#111">LDLR</text>
<line x1="33.40" y1="714.90" x2="33.40" y2="809.00" stroke="#111" stroke-width="1.1"/>
<line x1="33.40" y1="808.50" x2="167.50" y2="808.50" stroke="#000" stroke-width="1.1"/>
<line x1="29.60" y1="808.50" x2="33.40" y2="808.50" stroke="#000" stroke-width="1.1"/>
<text x="28.4" y="811.1" font-size="7.3" font-weight="bold" text-anchor="end" fill="#111">0</text>
<line x1="29.60" y1="785.23" x2="33.40" y2="785.23" stroke="#000" stroke-width="1.1"/>
<text x="28.4" y="787.8" font-size="7.3" font-weight="bold" text-anchor="end" fill="#111">200</text>
<line x1="29.60" y1="761.95" x2="33.40" y2="761.95" stroke="#000" stroke-width="1.1"/>
<text x="28.4" y="764.6" font-size="7.3" font-weight="bold" text-anchor="end" fill="#111">400</text>
<line x1="29.60" y1="738.67" x2="33.40" y2="738.67" stroke="#000" stroke-width="1.1"/>
<text x="28.4" y="741.3" font-size="7.3" font-weight="bold" text-anchor="end" fill="#111">600</text>
<line x1="29.60" y1="715.40" x2="33.40" y2="715.40" stroke="#000" stroke-width="1.1"/>
<text x="28.4" y="718.0" font-size="7.3" font-weight="bold" text-anchor="end" fill="#111">800</text>
<text x="13.0" y="766.8" font-size="7.5" font-weight="bold" text-anchor="middle" fill="#111" transform="rotate(-90 13 766.8)">gMFI</text>
<rect x="40.85" y="776.80" width="11.20" height="31.70" fill="#fff" stroke="#000" stroke-width="1.3"/>
<rect x="55.05" y="778.00" width="11.60" height="30.50" fill="#fff" stroke="#000" stroke-width="1.3"/>
<rect x="69.85" y="794.10" width="11.20" height="14.40" fill="#a1a2a6" stroke="#000" stroke-width="1.3"/>
<rect x="84.05" y="791.00" width="11.20" height="17.50" fill="#a1a2a6" stroke="#000" stroke-width="1.3"/>
<rect x="111.65" y="795.90" width="11.60" height="12.60" fill="#fff" stroke="#000" stroke-width="1.3"/>
<rect x="125.75" y="765.40" width="11.10" height="43.10" fill="#fff" stroke="#000" stroke-width="1.3"/>
<rect x="140.25" y="760.30" width="11.60" height="48.20" fill="#a1a2a6" stroke="#000" stroke-width="1.3"/>
<rect x="155.25" y="796.40" width="10.70" height="12.10" fill="#a1a2a6" stroke="#000" stroke-width="1.3"/>
<line x1="46.50" y1="772.30" x2="46.50" y2="776.80" stroke="#000" stroke-width="0.9"/>
<line x1="43.00" y1="772.30" x2="50.00" y2="772.30" stroke="#000" stroke-width="0.9"/>
<line x1="46.50" y1="776.80" x2="46.50" y2="780.50" stroke="#8c8c8c" stroke-width="0.9"/>
<line x1="43.00" y1="780.50" x2="50.00" y2="780.50" stroke="#8c8c8c" stroke-width="0.9"/>
<line x1="60.80" y1="775.50" x2="60.80" y2="778.00" stroke="#000" stroke-width="0.9"/>
<line x1="57.30" y1="775.50" x2="64.30" y2="775.50" stroke="#000" stroke-width="0.9"/>
<line x1="60.80" y1="778.00" x2="60.80" y2="780.00" stroke="#8c8c8c" stroke-width="0.9"/>
<line x1="57.30" y1="780.00" x2="64.30" y2="780.00" stroke="#8c8c8c" stroke-width="0.9"/>
<line x1="75.40" y1="790.50" x2="75.40" y2="794.10" stroke="#000" stroke-width="0.9"/>
<line x1="71.90" y1="790.50" x2="78.90" y2="790.50" stroke="#000" stroke-width="0.9"/>
<line x1="89.60" y1="788.80" x2="89.60" y2="791.00" stroke="#000" stroke-width="0.9"/>
<line x1="86.10" y1="788.80" x2="93.10" y2="788.80" stroke="#000" stroke-width="0.9"/>
<line x1="117.40" y1="789.90" x2="117.40" y2="795.90" stroke="#000" stroke-width="0.9"/>
<line x1="113.90" y1="789.90" x2="120.90" y2="789.90" stroke="#000" stroke-width="0.9"/>
<line x1="117.40" y1="795.90" x2="117.40" y2="800.40" stroke="#8c8c8c" stroke-width="0.9"/>
<line x1="113.90" y1="800.40" x2="120.90" y2="800.40" stroke="#8c8c8c" stroke-width="0.9"/>
<line x1="131.30" y1="760.50" x2="131.30" y2="765.40" stroke="#000" stroke-width="0.9"/>
<line x1="127.80" y1="760.50" x2="134.80" y2="760.50" stroke="#000" stroke-width="0.9"/>
<line x1="146.00" y1="753.60" x2="146.00" y2="760.30" stroke="#000" stroke-width="0.9"/>
<line x1="142.50" y1="753.60" x2="149.50" y2="753.60" stroke="#000" stroke-width="0.9"/>
<line x1="146.00" y1="760.30" x2="146.00" y2="766.50" stroke="#8c8c8c" stroke-width="0.9"/>
<line x1="142.50" y1="766.50" x2="149.50" y2="766.50" stroke="#8c8c8c" stroke-width="0.9"/>
<line x1="160.60" y1="794.50" x2="160.60" y2="796.40" stroke="#000" stroke-width="0.9"/>
<line x1="157.10" y1="794.50" x2="164.10" y2="794.50" stroke="#000" stroke-width="0.9"/>
<circle cx="44.2" cy="762.3" r="1.85" fill="#000"/>
<circle cx="48.8" cy="762.3" r="1.85" fill="#000"/>
<circle cx="46.5" cy="768.9" r="1.85" fill="#000"/>
<circle cx="51.0" cy="781.4" r="1.85" fill="#000"/>
<circle cx="46.5" cy="785.0" r="1.85" fill="#000"/>
<circle cx="41.4" cy="787.0" r="1.85" fill="#000"/>
<circle cx="51.0" cy="786.5" r="1.85" fill="#000"/>
<circle cx="56.1" cy="774.8" r="1.85" fill="#000"/>
<circle cx="60.1" cy="777.4" r="1.85" fill="#000"/>
<circle cx="62.4" cy="776.3" r="1.85" fill="#000"/>
<circle cx="56.1" cy="779.1" r="1.85" fill="#000"/>
<circle cx="65.5" cy="779.1" r="1.85" fill="#000"/>
<circle cx="59.3" cy="783.6" r="1.85" fill="#000"/>
<circle cx="75.2" cy="769.8" r="1.85" fill="#000"/>
<circle cx="73.0" cy="791.8" r="1.85" fill="#000"/>
<circle cx="77.5" cy="791.0" r="1.85" fill="#000"/>
<circle cx="70.7" cy="797.3" r="1.85" fill="#000"/>
<circle cx="75.2" cy="796.4" r="1.85" fill="#000"/>
<circle cx="79.8" cy="796.4" r="1.85" fill="#000"/>
<circle cx="70.7" cy="800.9" r="1.85" fill="#000"/>
<circle cx="75.2" cy="800.1" r="1.85" fill="#000"/>
<circle cx="79.8" cy="800.1" r="1.85" fill="#000"/>
<circle cx="84.8" cy="785.7" r="1.85" fill="#000"/>
<circle cx="89.7" cy="785.0" r="1.85" fill="#000"/>
<circle cx="94.5" cy="785.7" r="1.85" fill="#000"/>
<circle cx="94.5" cy="789.5" r="1.85" fill="#000"/>
<circle cx="84.8" cy="794.4" r="1.85" fill="#000"/>
<circle cx="89.7" cy="795.0" r="1.85" fill="#000"/>
<circle cx="94.5" cy="795.6" r="1.85" fill="#000"/>
<circle cx="84.8" cy="797.5" r="1.85" fill="#000"/>
<circle cx="117.0" cy="786.7" r="1.85" fill="#000"/>
<circle cx="117.0" cy="792.8" r="1.85" fill="#000"/>
<circle cx="117.0" cy="805.3" r="1.85" fill="#000"/>
<circle cx="131.5" cy="756.0" r="1.85" fill="#000"/>
<circle cx="126.7" cy="769.2" r="1.85" fill="#000"/>
<circle cx="131.5" cy="768.6" r="1.85" fill="#000"/>
<circle cx="136.4" cy="768.9" r="1.85" fill="#000"/>
<circle cx="146.1" cy="744.7" r="1.85" fill="#000"/>
<circle cx="146.1" cy="754.4" r="1.85" fill="#000"/>
<circle cx="141.2" cy="771.3" r="1.85" fill="#000"/>
<circle cx="150.4" cy="768.6" r="1.85" fill="#000"/>
<circle cx="160.1" cy="790.3" r="1.85" fill="#000"/>
<circle cx="155.8" cy="798.0" r="1.85" fill="#000"/>
<circle cx="160.1" cy="798.0" r="1.85" fill="#000"/>
<circle cx="164.7" cy="798.0" r="1.85" fill="#000"/>
<circle cx="160.1" cy="802.0" r="1.85" fill="#000"/>
<line x1="68.10" y1="808.50" x2="68.10" y2="814.00" stroke="#000" stroke-width="0.9"/>
<line x1="139.60" y1="808.50" x2="139.60" y2="814.00" stroke="#000" stroke-width="0.9"/>
<polyline points="47.30,756.60 47.30,749.50 75.70,749.50 75.70,762.00" fill="none" stroke="#000" stroke-width="0.9"/>
<path d="M58.90,741.25L58.90,745.35M57.12,742.27L60.68,744.32M60.68,742.27L57.12,744.32M64.30,741.25L64.30,745.35M62.52,742.27L66.08,744.32M66.08,742.27L62.52,744.32" stroke="#111" stroke-width="1.15" stroke-linecap="butt" fill="none"/>
<polyline points="60.50,739.90 60.50,735.90 90.60,735.90 90.60,747.80" fill="none" stroke="#000" stroke-width="0.9"/>
<path d="M75.50,727.65L75.50,731.75M73.72,728.68L77.28,730.73M77.28,728.68L73.72,730.73" stroke="#111" stroke-width="1.15" stroke-linecap="butt" fill="none"/>
<polyline points="130.40,702.60 130.40,699.10 161.10,699.10 161.10,702.60" fill="none" stroke="#000" stroke-width="0.9"/>
<path d="M144.70,692.45L144.70,696.55M142.92,693.48L146.48,695.52M146.48,693.48L142.92,695.52M150.10,692.45L150.10,696.55M148.32,693.48L151.88,695.52M151.88,693.48L148.32,695.52" stroke="#111" stroke-width="1.15" stroke-linecap="butt" fill="none"/>
<polyline points="116.50,715.60 116.50,712.30 146.90,712.30 146.90,715.60" fill="none" stroke="#000" stroke-width="0.9"/>
<path d="M126.40,706.75L126.40,710.85M124.62,707.77L128.18,709.82M128.18,707.77L124.62,709.82M131.80,706.75L131.80,710.85M130.02,707.77L133.58,709.82M133.58,707.77L130.02,709.82M137.20,706.75L137.20,710.85M135.42,707.77L138.98,709.82M138.98,707.77L135.42,709.82" stroke="#111" stroke-width="1.15" stroke-linecap="butt" fill="none"/>
<polyline points="145.60,734.20 145.60,729.80 160.60,729.80 160.60,774.60" fill="none" stroke="#000" stroke-width="0.9"/>
<path d="M150.60,721.55L150.60,725.65M148.82,722.58L152.38,724.62M152.38,722.58L148.82,724.62M156.00,721.55L156.00,725.65M154.22,722.58L157.78,724.62M157.78,722.58L154.22,724.62" stroke="#111" stroke-width="1.15" stroke-linecap="butt" fill="none"/>
<polyline points="116.20,762.40 116.20,735.00 131.50,735.00 131.50,740.60" fill="none" stroke="#000" stroke-width="0.9"/>
<path d="M121.50,726.45L121.50,730.55M119.72,727.48L123.28,729.52M123.28,727.48L119.72,729.52M126.90,726.45L126.90,730.55M125.12,727.48L128.68,729.52M128.68,727.48L125.12,729.52" stroke="#111" stroke-width="1.15" stroke-linecap="butt" fill="none"/>
<text x="68.3" y="824.2" font-size="9" font-weight="normal" text-anchor="middle" fill="#222" textLength="21" lengthAdjust="spacingAndGlyphs">Day 2</text>
<text x="138.5" y="824.2" font-size="9" font-weight="normal" text-anchor="middle" fill="#222" textLength="21" lengthAdjust="spacingAndGlyphs">Day 5</text>
<text x="5.0" y="833.3" font-size="8.6" font-weight="normal" text-anchor="start" fill="#222">U1866A</text>
<path d="M43.70,830.00H47.30M56.90,830.00H62.90M59.90,827.00V833.00M73.10,830.00H76.70M86.90,830.00H92.90M89.90,827.00V833.00M113.30,830.00H116.90M126.30,830.00H132.30M129.30,827.00V833.00M142.70,830.00H146.30M156.00,830.00H162.00M159.00,827.00V833.00" stroke="#1a1a1a" stroke-width="1.0" fill="none"/>
<text x="270.0" y="682.0" font-size="10.5" font-weight="bold" text-anchor="middle" fill="#111">LDLR in CD25</text>
<text x="311.0" y="675.5" font-size="6.5" font-weight="bold" text-anchor="start" fill="#111">high</text>
<line x1="205.10" y1="716.20" x2="205.10" y2="808.60" stroke="#111" stroke-width="1.1"/>
<line x1="205.10" y1="808.10" x2="344.30" y2="808.10" stroke="#000" stroke-width="1.1"/>
<line x1="201.30" y1="808.10" x2="205.10" y2="808.10" stroke="#000" stroke-width="1.1"/>
<text x="200.1" y="810.7" font-size="7.3" font-weight="bold" text-anchor="end" fill="#111">0</text>
<line x1="201.30" y1="785.25" x2="205.10" y2="785.25" stroke="#000" stroke-width="1.1"/>
<text x="200.1" y="787.9" font-size="7.3" font-weight="bold" text-anchor="end" fill="#111">200</text>
<line x1="201.30" y1="762.40" x2="205.10" y2="762.40" stroke="#000" stroke-width="1.1"/>
<text x="200.1" y="765.0" font-size="7.3" font-weight="bold" text-anchor="end" fill="#111">400</text>
<line x1="201.30" y1="739.55" x2="205.10" y2="739.55" stroke="#000" stroke-width="1.1"/>
<text x="200.1" y="742.2" font-size="7.3" font-weight="bold" text-anchor="end" fill="#111">600</text>
<line x1="201.30" y1="716.70" x2="205.10" y2="716.70" stroke="#000" stroke-width="1.1"/>
<text x="200.1" y="719.3" font-size="7.3" font-weight="bold" text-anchor="end" fill="#111">800</text>
<text x="184.5" y="758.4" font-size="7.5" font-weight="bold" text-anchor="middle" fill="#111" transform="rotate(-90 184.5 758.4)">gMFI</text>
<rect x="212.95" y="773.20" width="10.80" height="34.90" fill="#fff" stroke="#000" stroke-width="1.3"/>
<rect x="227.05" y="772.50" width="10.90" height="35.60" fill="#fff" stroke="#000" stroke-width="1.3"/>
<rect x="240.95" y="782.30" width="10.90" height="25.80" fill="#a1a2a6" stroke="#000" stroke-width="1.3"/>
<rect x="256.15" y="777.40" width="10.80" height="30.70" fill="#a1a2a6" stroke="#000" stroke-width="1.3"/>
<rect x="282.95" y="796.70" width="11.10" height="11.40" fill="#fff" stroke="#000" stroke-width="1.3"/>
<rect x="296.95" y="757.90" width="11.00" height="50.20" fill="#fff" stroke="#000" stroke-width="1.3"/>
<rect x="310.85" y="745.00" width="11.20" height="63.10" fill="#a1a2a6" stroke="#000" stroke-width="1.3"/>
<rect x="325.75" y="787.00" width="10.80" height="21.10" fill="#a1a2a6" stroke="#000" stroke-width="1.3"/>
<line x1="218.40" y1="767.50" x2="218.40" y2="773.20" stroke="#000" stroke-width="0.9"/>
<line x1="214.90" y1="767.50" x2="221.90" y2="767.50" stroke="#000" stroke-width="0.9"/>
<line x1="218.40" y1="773.20" x2="218.40" y2="777.40" stroke="#8c8c8c" stroke-width="0.9"/>
<line x1="214.90" y1="777.40" x2="221.90" y2="777.40" stroke="#8c8c8c" stroke-width="0.9"/>
<line x1="232.50" y1="770.00" x2="232.50" y2="772.50" stroke="#000" stroke-width="0.9"/>
<line x1="229.00" y1="770.00" x2="236.00" y2="770.00" stroke="#000" stroke-width="0.9"/>
<line x1="246.40" y1="777.40" x2="246.40" y2="782.30" stroke="#000" stroke-width="0.9"/>
<line x1="242.90" y1="777.40" x2="249.90" y2="777.40" stroke="#000" stroke-width="0.9"/>
<line x1="261.50" y1="774.90" x2="261.50" y2="777.40" stroke="#000" stroke-width="0.9"/>
<line x1="258.00" y1="774.90" x2="265.00" y2="774.90" stroke="#000" stroke-width="0.9"/>
<line x1="288.50" y1="793.20" x2="288.50" y2="796.70" stroke="#000" stroke-width="0.9"/>
<line x1="285.00" y1="793.20" x2="292.00" y2="793.20" stroke="#000" stroke-width="0.9"/>
<line x1="288.50" y1="796.70" x2="288.50" y2="800.40" stroke="#8c8c8c" stroke-width="0.9"/>
<line x1="285.00" y1="800.40" x2="292.00" y2="800.40" stroke="#8c8c8c" stroke-width="0.9"/>
<line x1="302.50" y1="754.70" x2="302.50" y2="757.90" stroke="#000" stroke-width="0.9"/>
<line x1="299.00" y1="754.70" x2="306.00" y2="754.70" stroke="#000" stroke-width="0.9"/>
<line x1="316.50" y1="739.50" x2="316.50" y2="745.00" stroke="#000" stroke-width="0.9"/>
<line x1="313.00" y1="739.50" x2="320.00" y2="739.50" stroke="#000" stroke-width="0.9"/>
<line x1="331.20" y1="783.50" x2="331.20" y2="787.00" stroke="#000" stroke-width="0.9"/>
<line x1="327.70" y1="783.50" x2="334.70" y2="783.50" stroke="#000" stroke-width="0.9"/>
<circle cx="218.4" cy="751.6" r="1.85" fill="#000"/>
<circle cx="218.4" cy="759.5" r="1.85" fill="#000"/>
<circle cx="218.4" cy="772.0" r="1.85" fill="#000"/>
<circle cx="213.6" cy="778.2" r="1.85" fill="#000"/>
<circle cx="218.4" cy="780.8" r="1.85" fill="#000"/>
<circle cx="222.7" cy="781.4" r="1.85" fill="#000"/>
<circle cx="213.6" cy="783.9" r="1.85" fill="#000"/>
<circle cx="232.4" cy="764.3" r="1.85" fill="#000"/>
<circle cx="228.4" cy="773.2" r="1.85" fill="#000"/>
<circle cx="234.1" cy="770.0" r="1.85" fill="#000"/>
<circle cx="236.9" cy="772.5" r="1.85" fill="#000"/>
<circle cx="234.1" cy="775.1" r="1.85" fill="#000"/>
<circle cx="230.7" cy="777.7" r="1.85" fill="#000"/>
<circle cx="246.8" cy="760.3" r="1.85" fill="#000"/>
<circle cx="246.8" cy="770.9" r="1.85" fill="#000"/>
<circle cx="242.0" cy="780.0" r="1.85" fill="#000"/>
<circle cx="251.1" cy="781.4" r="1.85" fill="#000"/>
<circle cx="246.8" cy="785.3" r="1.85" fill="#000"/>
<circle cx="242.0" cy="789.1" r="1.85" fill="#000"/>
<circle cx="251.1" cy="791.8" r="1.85" fill="#000"/>
<circle cx="242.0" cy="794.1" r="1.85" fill="#000"/>
<circle cx="258.5" cy="766.8" r="1.85" fill="#000"/>
<circle cx="263.4" cy="769.1" r="1.85" fill="#000"/>
<circle cx="261.1" cy="773.6" r="1.85" fill="#000"/>
<circle cx="256.8" cy="779.3" r="1.85" fill="#000"/>
<circle cx="261.1" cy="781.4" r="1.85" fill="#000"/>
<circle cx="265.7" cy="778.5" r="1.85" fill="#000"/>
<circle cx="256.8" cy="783.9" r="1.85" fill="#000"/>
<circle cx="265.7" cy="783.4" r="1.85" fill="#000"/>
<circle cx="288.3" cy="786.4" r="1.85" fill="#000"/>
<circle cx="288.3" cy="791.9" r="1.85" fill="#000"/>
<circle cx="283.1" cy="804.8" r="1.85" fill="#000"/>
<circle cx="293.1" cy="803.2" r="1.85" fill="#000"/>
<circle cx="302.8" cy="749.5" r="1.85" fill="#000"/>
<circle cx="297.6" cy="758.7" r="1.85" fill="#000"/>
<circle cx="302.8" cy="758.9" r="1.85" fill="#000"/>
<circle cx="307.3" cy="759.5" r="1.85" fill="#000"/>
<circle cx="297.6" cy="762.4" r="1.85" fill="#000"/>
<circle cx="307.3" cy="760.8" r="1.85" fill="#000"/>
<circle cx="312.2" cy="736.6" r="1.85" fill="#000"/>
<circle cx="321.6" cy="735.0" r="1.85" fill="#000"/>
<circle cx="317.4" cy="747.6" r="1.85" fill="#000"/>
<circle cx="317.4" cy="751.5" r="1.85" fill="#000"/>
<circle cx="317.4" cy="755.7" r="1.85" fill="#000"/>
<circle cx="330.8" cy="777.8" r="1.85" fill="#000"/>
<circle cx="326.4" cy="786.7" r="1.85" fill="#000"/>
<circle cx="330.8" cy="787.5" r="1.85" fill="#000"/>
<circle cx="335.6" cy="788.6" r="1.85" fill="#000"/>
<circle cx="326.4" cy="792.4" r="1.85" fill="#000"/>
<circle cx="335.6" cy="789.9" r="1.85" fill="#000"/>
<line x1="240.30" y1="808.10" x2="240.30" y2="814.00" stroke="#000" stroke-width="0.9"/>
<line x1="310.60" y1="808.10" x2="310.60" y2="814.00" stroke="#000" stroke-width="0.9"/>
<polyline points="300.90,697.80 300.90,694.50 331.60,694.50 331.60,698.60" fill="none" stroke="#000" stroke-width="0.9"/>
<path d="M312.00,688.45L312.00,692.55M310.22,689.48L313.78,691.52M313.78,689.48L310.22,691.52M317.40,688.45L317.40,692.55M315.62,689.48L319.18,691.52M319.18,689.48L315.62,691.52M322.80,688.45L322.80,692.55M321.02,689.48L324.58,691.52M324.58,689.48L321.02,691.52" stroke="#111" stroke-width="1.15" stroke-linecap="butt" fill="none"/>
<polyline points="288.30,716.90 288.30,709.40 316.70,709.40 316.70,714.00" fill="none" stroke="#000" stroke-width="0.9"/>
<path d="M294.70,701.85L294.70,705.95M292.92,702.88L296.48,704.92M296.48,702.88L292.92,704.92M300.10,701.85L300.10,705.95M298.32,702.88L301.88,704.92M301.88,702.88L298.32,704.92M305.50,701.85L305.50,705.95M303.72,702.88L307.28,704.92M307.28,702.88L303.72,704.92M310.90,701.85L310.90,705.95M309.12,702.88L312.68,704.92M312.68,702.88L309.12,704.92" stroke="#111" stroke-width="1.15" stroke-linecap="butt" fill="none"/>
<polyline points="316.20,726.90 316.20,722.40 331.30,722.40 331.30,767.30" fill="none" stroke="#000" stroke-width="0.9"/>
<path d="M318.40,713.85L318.40,717.95M316.62,714.88L320.18,716.92M320.18,714.88L316.62,716.92M323.80,713.85L323.80,717.95M322.02,714.88L325.58,716.92M325.58,714.88L322.02,716.92M329.20,713.85L329.20,717.95M327.42,714.88L330.98,716.92M330.98,714.88L327.42,716.92" stroke="#111" stroke-width="1.15" stroke-linecap="butt" fill="none"/>
<polyline points="287.60,765.70 287.60,737.40 302.50,737.40 302.50,743.90" fill="none" stroke="#000" stroke-width="0.9"/>
<path d="M289.80,729.35L289.80,733.45M288.02,730.38L291.58,732.42M291.58,730.38L288.02,732.42M295.20,729.35L295.20,733.45M293.42,730.38L296.98,732.42M296.98,730.38L293.42,732.42M300.60,729.35L300.60,733.45M298.82,730.38L302.38,732.42M302.38,730.38L298.82,732.42" stroke="#111" stroke-width="1.15" stroke-linecap="butt" fill="none"/>
<text x="240.0" y="822.5" font-size="9" font-weight="normal" text-anchor="middle" fill="#222" textLength="21" lengthAdjust="spacingAndGlyphs">Day 2</text>
<text x="311.6" y="822.5" font-size="9" font-weight="normal" text-anchor="middle" fill="#222" textLength="21" lengthAdjust="spacingAndGlyphs">Day 5</text>
<text x="177.6" y="833.3" font-size="8.6" font-weight="normal" text-anchor="start" fill="#222">U1866A</text>
<path d="M216.50,830.00H220.10M229.80,830.00H235.80M232.80,827.00V833.00M245.40,830.00H249.00M259.20,830.00H265.20M262.20,827.00V833.00M285.40,830.00H289.00M298.60,830.00H304.60M301.60,827.00V833.00M315.10,830.00H318.70M328.00,830.00H334.00M331.00,827.00V833.00" stroke="#1a1a1a" stroke-width="1.0" fill="none"/>
</svg></body></html>
